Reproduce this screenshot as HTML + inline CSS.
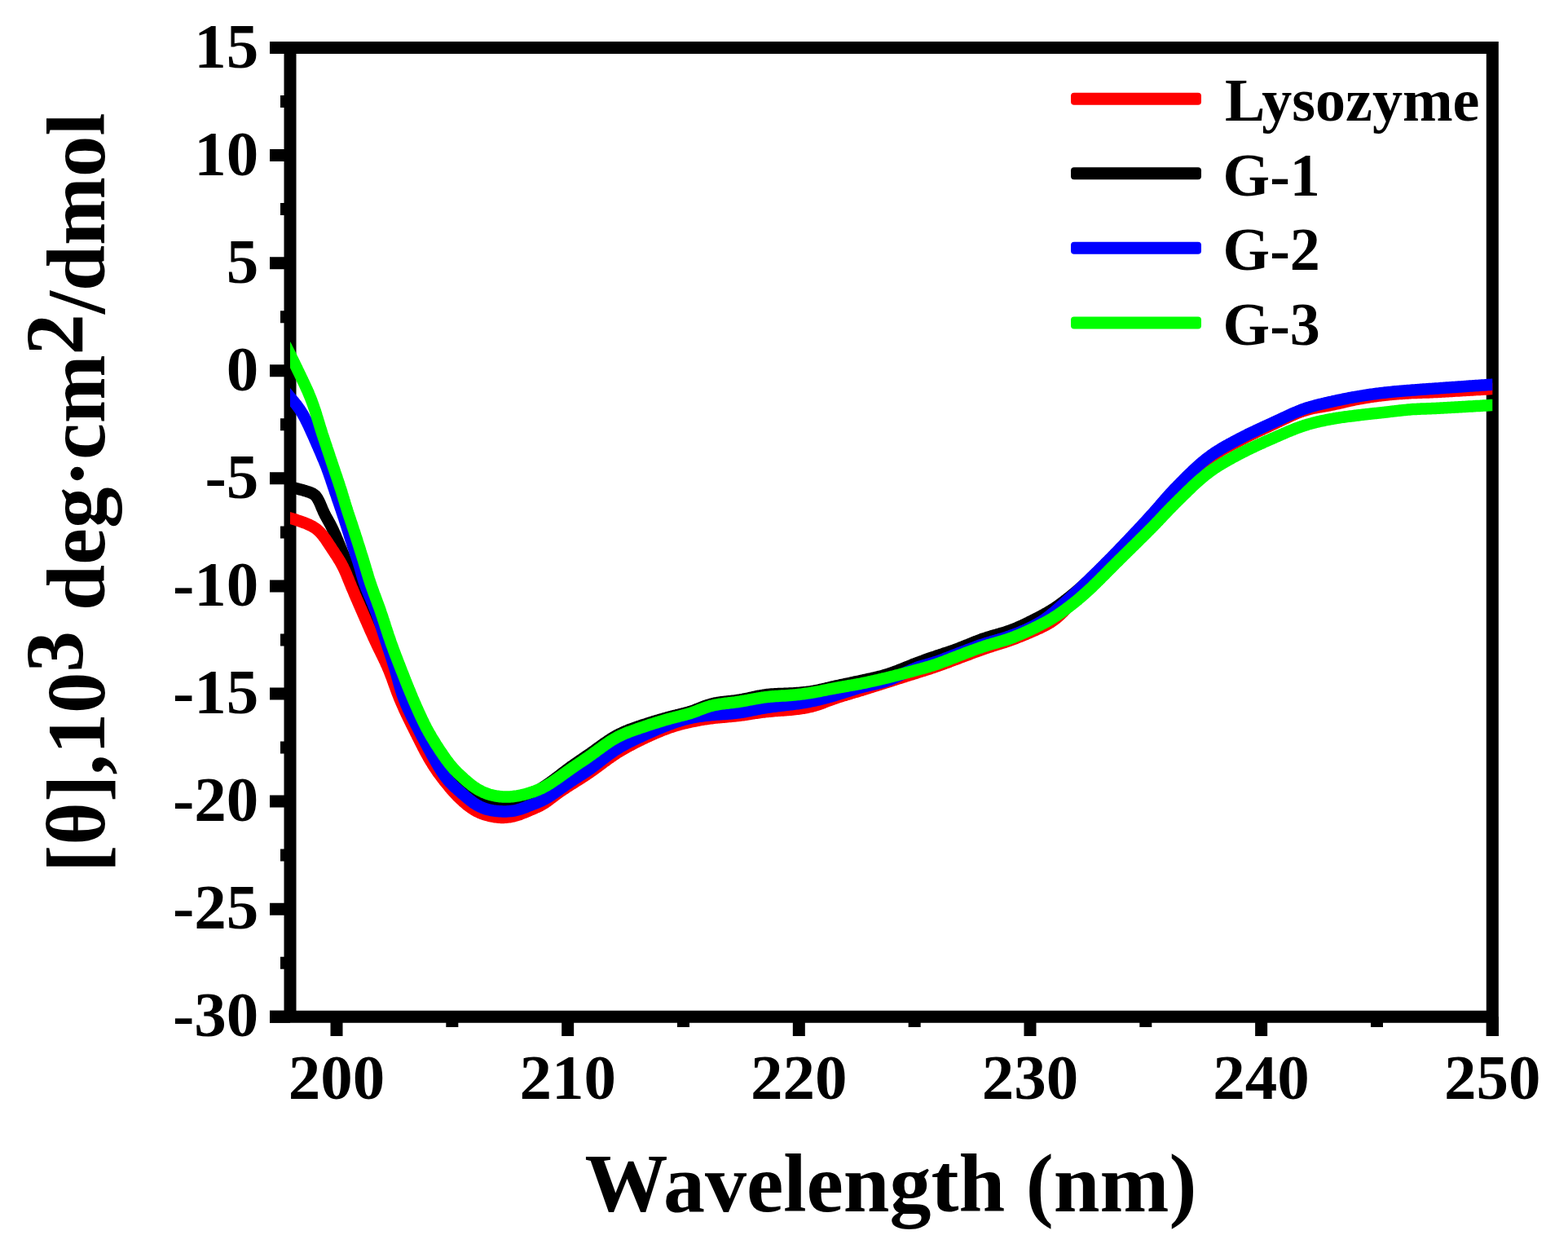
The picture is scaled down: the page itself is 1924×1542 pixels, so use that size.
<!DOCTYPE html><html><head><meta charset="utf-8"><title>CD spectra</title><style>
html,body{margin:0;padding:0;background:#fff;}svg{display:block;}
text{font-family:"Liberation Serif","Times New Roman",serif;font-weight:bold;fill:#000;}
</style></head><body>
<svg width="1924" height="1542" viewBox="0 0 1924 1542">
<rect width="1924" height="1542" fill="#fff"/>
<path d="M331,58.50H356.0 M331,190.58H356.0 M331,322.67H356.0 M331,454.75H356.0 M331,586.83H356.0 M331,718.92H356.0 M331,851.00H356.0 M331,983.08H356.0 M331,1115.17H356.0 M331,1247.25H356.0 M344,124.54H356.0 M344,256.62H356.0 M344,388.71H356.0 M344,520.79H356.0 M344,652.88H356.0 M344,784.96H356.0 M344,917.04H356.0 M344,1049.12H356.0 M344,1181.21H356.0 M413.00,1247.25V1271 M696.66,1247.25V1271 M980.32,1247.25V1271 M1263.98,1247.25V1271 M1547.64,1247.25V1271 M1831.30,1247.25V1271 M554.83,1247.25V1260 M838.49,1247.25V1260 M1122.15,1247.25V1260 M1405.81,1247.25V1260 M1689.47,1247.25V1260" stroke="#000" stroke-width="15" fill="none"/>
<path d="M331,58.50H1838.80 M331,1247.25H1838.80 M356.00,51.00V1254.75 M1831.30,51.00V1271" stroke="#000" stroke-width="15" fill="none"/>
<defs><clipPath id="pc"><rect x="356.0" y="0" width="1475.3" height="1542"/></clipPath></defs>
<g clip-path="url(#pc)" fill="none" stroke-width="14.5" stroke-linejoin="round">
<path d="M340.0,595.0L341.5,595.2 343.0,595.4 344.5,595.6 345.9,595.8 347.4,596.1 348.9,596.3 350.4,596.5 351.9,596.8 353.3,597.0 354.8,597.3 356.3,597.6 357.8,597.9 359.2,598.2 360.7,598.5 362.1,598.9 363.6,599.2 365.1,599.6 366.5,600.0 368.0,600.4 369.4,600.7 370.9,601.1 372.3,601.5 373.8,601.9 375.2,602.4 376.6,602.8 378.1,603.3 379.5,603.7 380.9,604.3 382.3,604.8 383.6,605.5 384.9,606.3 386.1,607.2 387.2,608.2 388.1,609.4 389.0,610.6 389.8,611.9 390.5,613.2 391.2,614.5 391.9,615.9 392.5,617.2 393.1,618.6 393.7,620.0 394.2,621.4 394.8,622.8 395.4,624.1 396.0,625.5 396.6,626.9 397.2,628.3 397.9,629.6 398.5,631.0 399.2,632.3 399.9,633.6 400.6,634.9 401.4,636.2 402.1,637.5 402.8,638.8 403.6,640.2 404.3,641.5 405.0,642.8 405.7,644.1 406.4,645.5 407.0,646.8 407.7,648.2 408.4,649.5 409.0,650.9 409.6,652.2 410.2,653.6 410.8,655.0 411.5,656.3 412.1,657.7 412.6,659.1 413.2,660.5 413.8,661.9 414.4,663.2 414.9,664.6 415.5,666.0 416.1,667.4 416.7,668.8 417.2,670.2 417.8,671.6 418.4,673.0 419.0,674.3 419.5,675.7 420.1,677.1 420.7,678.5 421.3,679.9 421.9,681.2 422.4,682.6 423.0,684.0 423.6,685.4 424.2,686.8 424.8,688.2 425.3,689.6 425.9,690.9 426.5,692.3 427.0,693.7 427.6,695.1 428.1,696.5 428.7,697.9 429.2,699.3 429.8,700.7 430.3,702.1 430.8,703.5 431.4,704.9 431.9,706.3 432.5,707.7 433.0,709.1 433.6,710.5 434.1,711.9 434.7,713.3 435.3,714.7 435.9,716.0 436.5,717.4 437.1,718.8 437.7,720.2 438.3,721.5 438.9,722.9 439.5,724.3 440.2,725.6 440.8,727.0 441.4,728.3 442.1,729.7 442.7,731.1 443.3,732.4 444.0,733.8 444.6,735.1 445.3,736.5 445.9,737.8 446.5,739.2 447.2,740.6 447.8,741.9 448.4,743.3 449.0,744.7 449.6,746.0 450.3,747.4 450.9,748.8 451.5,750.1 452.1,751.5 452.7,752.9 453.2,754.3 453.8,755.6 454.4,757.0 455.0,758.4 455.6,759.8 456.2,761.2 456.7,762.6 457.3,764.0 457.9,765.3 458.4,766.7 459.0,768.1 459.6,769.5 460.1,770.9 460.7,772.3 461.3,773.7 461.8,775.1 462.4,776.5 463.0,777.8 463.5,779.2 464.1,780.6 464.7,782.0 465.2,783.4 465.8,784.8 466.4,786.2 466.9,787.6 467.5,789.0 468.1,790.3 468.6,791.7 469.2,793.1 469.8,794.5 470.3,795.9 470.9,797.3 471.5,798.7 472.1,800.1 472.6,801.4 473.2,802.8 473.8,804.2 474.3,805.6 474.9,807.0 475.4,808.4 476.0,809.8 476.5,811.2 477.1,812.6 477.6,814.0 478.2,815.4 478.7,816.8 479.2,818.2 479.7,819.6 480.3,821.0 480.8,822.4 481.3,823.8 481.8,825.2 482.3,826.7 482.8,828.1 483.2,829.5 483.7,830.9 484.2,832.3 484.7,833.8 485.2,835.2 485.6,836.6 486.1,838.0 486.6,839.5 487.1,840.9 487.5,842.3 488.0,843.7 488.5,845.1 489.0,846.5 489.5,848.0 490.0,849.4 490.5,850.8 491.0,852.2 491.6,853.6 492.1,855.0 492.6,856.4 493.2,857.8 493.8,859.2 494.3,860.6 494.9,862.0 495.5,863.3 496.1,864.7 496.7,866.1 497.3,867.5 497.9,868.8 498.5,870.2 499.1,871.6 499.8,872.9 500.4,874.3 501.0,875.6 501.7,877.0 502.3,878.3 503.0,879.7 503.6,881.0 504.3,882.4 505.0,883.7 505.6,885.1 506.3,886.4 507.0,887.8 507.6,889.1 508.3,890.5 509.0,891.8 509.6,893.1 510.3,894.5 511.0,895.8 511.7,897.2 512.4,898.5 513.0,899.8 513.7,901.2 514.4,902.5 515.1,903.8 515.7,905.2 516.4,906.5 517.1,907.9 517.8,909.2 518.5,910.5 519.2,911.9 519.9,913.2 520.5,914.5 521.2,915.8 521.9,917.2 522.6,918.5 523.4,919.8 524.1,921.1 524.8,922.5 525.5,923.8 526.2,925.1 527.0,926.4 527.7,927.7 528.5,929.0 529.2,930.3 530.0,931.6 530.8,932.8 531.6,934.1 532.5,935.3 533.3,936.6 534.2,937.8 535.0,939.0 535.9,940.2 536.9,941.4 537.8,942.6 538.8,943.7 539.8,944.9 540.8,946.0 541.8,947.1 542.8,948.1 543.9,949.2 545.0,950.2 546.1,951.2 547.2,952.2 548.4,953.2 549.6,954.1 550.8,955.0 552.0,955.9 553.2,956.8 554.4,957.6 555.7,958.5 556.9,959.3 558.2,960.1 559.4,960.9 560.7,961.7 562.0,962.5 563.3,963.3 564.5,964.1 565.8,964.9 567.1,965.7 568.3,966.5 569.5,967.4 570.8,968.2 572.0,969.1 573.3,969.9 574.5,970.8 575.7,971.6 577.0,972.5 578.2,973.3 579.5,974.1 580.8,974.9 582.1,975.6 583.4,976.4 584.7,977.1 586.0,977.7 587.4,978.4 588.8,979.0 590.2,979.6 591.6,980.1 593.0,980.6 594.4,981.1 595.8,981.6 597.2,982.0 598.7,982.4 600.1,982.8 601.6,983.1 603.1,983.4 604.5,983.7 606.0,984.0 607.5,984.2 609.0,984.4 610.5,984.6 612.0,984.7 613.5,984.8 615.0,984.8 616.5,984.8 618.0,984.7 619.5,984.6 621.0,984.4 622.4,984.2 623.9,984.0 625.4,983.7 626.9,983.4 628.3,983.0 629.8,982.7 631.2,982.3 632.7,981.8 634.1,981.4 635.5,980.9 636.9,980.4 638.3,979.9 639.7,979.3 641.1,978.7 642.5,978.2 643.9,977.6 645.2,977.0 646.6,976.4 648.0,975.7 649.3,975.1 650.7,974.4 652.0,973.8 653.4,973.1 654.7,972.4 656.0,971.7 657.3,971.0 658.7,970.3 660.0,969.6 661.3,968.8 662.6,968.1 663.9,967.3 665.1,966.5 666.4,965.7 667.7,964.9 668.9,964.1 670.2,963.2 671.4,962.4 672.6,961.5 673.9,960.7 675.1,959.8 676.3,958.9 677.5,958.0 678.7,957.1 679.9,956.2 681.1,955.3 682.3,954.4 683.5,953.5 684.7,952.6 685.9,951.7 687.1,950.8 688.3,949.9 689.4,948.9 690.6,948.0 691.8,947.1 693.0,946.2 694.2,945.3 695.4,944.4 696.6,943.5 697.8,942.6 699.0,941.7 700.2,940.8 701.4,939.9 702.7,939.1 703.9,938.2 705.1,937.3 706.3,936.5 707.6,935.6 708.8,934.8 710.1,933.9 711.3,933.1 712.5,932.3 713.8,931.4 715.0,930.6 716.3,929.7 717.5,928.9 718.7,928.0 720.0,927.2 721.2,926.3 722.4,925.5 723.7,924.6 724.9,923.8 726.1,922.9 727.4,922.0 728.6,921.2 729.8,920.3 731.0,919.4 732.2,918.5 733.4,917.6 734.6,916.8 735.9,915.9 737.1,915.0 738.3,914.1 739.5,913.2 740.7,912.4 742.0,911.5 743.2,910.7 744.4,909.8 745.7,909.0 746.9,908.1 748.2,907.3 749.4,906.5 750.7,905.7 752.0,904.9 753.3,904.2 754.6,903.4 755.9,902.7 757.2,902.0 758.5,901.3 759.9,900.6 761.2,899.9 762.6,899.3 763.9,898.7 765.3,898.0 766.7,897.4 768.1,896.9 769.4,896.3 770.8,895.7 772.2,895.2 773.6,894.7 775.0,894.1 776.5,893.6 777.9,893.1 779.3,892.6 780.7,892.1 782.1,891.6 783.5,891.1 785.0,890.7 786.4,890.2 787.8,889.7 789.2,889.2 790.6,888.8 792.1,888.3 793.5,887.8 794.9,887.3 796.3,886.9 797.8,886.4 799.2,886.0 800.6,885.5 802.1,885.1 803.5,884.6 804.9,884.2 806.4,883.8 807.8,883.4 809.3,882.9 810.7,882.5 812.1,882.1 813.6,881.7 815.0,881.3 816.5,880.9 817.9,880.5 819.4,880.1 820.8,879.7 822.3,879.3 823.7,878.9 825.2,878.6 826.6,878.2 828.1,877.8 829.5,877.5 831.0,877.1 832.5,876.8 833.9,876.4 835.4,876.1 836.8,875.7 838.3,875.4 839.7,875.0 841.2,874.6 842.6,874.2 844.1,873.8 845.5,873.4 846.9,872.9 848.4,872.5 849.8,872.0 851.2,871.5 852.6,871.0 854.0,870.4 855.4,869.9 856.8,869.3 858.2,868.8 859.6,868.2 861.0,867.6 862.4,867.1 863.8,866.6 865.2,866.0 866.6,865.5 868.0,865.0 869.4,864.6 870.9,864.2 872.3,863.8 873.8,863.4 875.2,863.0 876.7,862.7 878.2,862.4 879.6,862.2 881.1,861.9 882.6,861.7 884.1,861.5 885.6,861.3 887.1,861.1 888.6,861.0 890.1,860.8 891.5,860.6 893.0,860.5 894.5,860.3 896.0,860.2 897.5,860.0 899.0,859.8 900.5,859.6 902.0,859.4 903.5,859.2 904.9,859.0 906.4,858.8 907.9,858.5 909.4,858.3 910.9,858.0 912.3,857.7 913.8,857.4 915.3,857.1 916.7,856.8 918.2,856.5 919.7,856.2 921.1,855.8 922.6,855.5 924.1,855.2 925.5,854.9 927.0,854.5 928.5,854.2 929.9,853.9 931.4,853.6 932.9,853.4 934.4,853.1 935.8,852.9 937.3,852.6 938.8,852.4 940.3,852.2 941.8,852.0 943.3,851.9 944.8,851.7 946.3,851.6 947.8,851.5 949.3,851.4 950.7,851.3 952.2,851.2 953.7,851.2 955.2,851.1 956.7,851.0 958.2,851.0 959.7,850.9 961.2,850.9 962.7,850.8 964.2,850.8 965.7,850.7 967.2,850.7 968.7,850.6 970.2,850.5 971.7,850.5 973.2,850.4 974.7,850.3 976.2,850.2 977.7,850.1 979.2,850.0 980.7,849.9 982.2,849.7 983.7,849.6 985.2,849.5 986.7,849.3 988.2,849.2 989.7,849.0 991.2,848.8 992.6,848.6 994.1,848.4 995.6,848.2 997.1,847.9 998.6,847.7 1000.0,847.4 1001.5,847.1 1003.0,846.8 1004.5,846.5 1005.9,846.2 1007.4,845.9 1008.8,845.5 1010.3,845.2 1011.8,844.8 1013.2,844.5 1014.7,844.1 1016.1,843.8 1017.6,843.4 1019.1,843.1 1020.5,842.7 1022.0,842.4 1023.4,842.1 1024.9,841.7 1026.4,841.4 1027.8,841.1 1029.3,840.8 1030.8,840.4 1032.2,840.1 1033.7,839.8 1035.2,839.5 1036.6,839.2 1038.1,838.9 1039.6,838.6 1041.0,838.3 1042.5,838.0 1044.0,837.7 1045.4,837.4 1046.9,837.0 1048.4,836.7 1049.8,836.4 1051.3,836.1 1052.8,835.8 1054.2,835.5 1055.7,835.2 1057.2,834.8 1058.6,834.5 1060.1,834.2 1061.6,833.9 1063.0,833.6 1064.5,833.2 1066.0,832.9 1067.4,832.6 1068.9,832.3 1070.4,831.9 1071.8,831.6 1073.3,831.3 1074.7,830.9 1076.2,830.6 1077.7,830.2 1079.1,829.8 1080.6,829.5 1082.0,829.1 1083.5,828.7 1084.9,828.3 1086.3,827.8 1087.8,827.4 1089.2,827.0 1090.6,826.5 1092.1,826.1 1093.5,825.6 1094.9,825.1 1096.3,824.6 1097.7,824.1 1099.1,823.5 1100.5,823.0 1101.9,822.5 1103.3,821.9 1104.7,821.4 1106.1,820.8 1107.5,820.3 1108.9,819.7 1110.3,819.1 1111.7,818.6 1113.1,818.0 1114.5,817.5 1115.9,816.9 1117.3,816.3 1118.7,815.8 1120.0,815.2 1121.4,814.7 1122.8,814.1 1124.2,813.6 1125.6,813.1 1127.0,812.5 1128.4,812.0 1129.9,811.5 1131.3,811.0 1132.7,810.5 1134.1,809.9 1135.5,809.4 1136.9,808.9 1138.3,808.4 1139.7,807.9 1141.1,807.4 1142.6,806.9 1144.0,806.4 1145.4,806.0 1146.8,805.5 1148.2,805.0 1149.7,804.5 1151.1,804.0 1152.5,803.6 1153.9,803.1 1155.4,802.6 1156.8,802.2 1158.2,801.7 1159.6,801.2 1161.1,800.8 1162.5,800.3 1163.9,799.8 1165.3,799.3 1166.7,798.8 1168.2,798.3 1169.6,797.9 1171.0,797.3 1172.4,796.8 1173.8,796.3 1175.2,795.8 1176.6,795.3 1178.0,794.7 1179.4,794.2 1180.8,793.6 1182.2,793.1 1183.6,792.5 1185.0,791.9 1186.4,791.4 1187.8,790.8 1189.1,790.3 1190.5,789.7 1191.9,789.1 1193.3,788.6 1194.7,788.0 1196.1,787.4 1197.5,786.9 1198.9,786.3 1200.3,785.8 1201.7,785.3 1203.1,784.8 1204.5,784.2 1205.9,783.7 1207.3,783.3 1208.8,782.8 1210.2,782.3 1211.6,781.8 1213.1,781.4 1214.5,781.0 1215.9,780.5 1217.4,780.1 1218.8,779.7 1220.2,779.3 1221.7,778.9 1223.1,778.5 1224.6,778.1 1226.0,777.7 1227.5,777.2 1228.9,776.8 1230.3,776.4 1231.8,776.0 1233.2,775.5 1234.6,775.0 1236.1,774.6 1237.5,774.1 1238.9,773.6 1240.3,773.1 1241.7,772.6 1243.1,772.0 1244.5,771.5 1245.9,770.9 1247.3,770.3 1248.7,769.7 1250.0,769.1 1251.4,768.5 1252.8,767.9 1254.1,767.3 1255.5,766.7 1256.9,766.0 1258.2,765.4 1259.6,764.7 1260.9,764.1 1262.3,763.4 1263.6,762.7 1264.9,762.1 1266.3,761.4 1267.6,760.7 1269.0,760.0 1270.3,759.4 1271.6,758.7 1273.0,758.0 1274.3,757.3 1275.6,756.6 1276.9,755.9 1278.3,755.2 1279.6,754.5 1280.9,753.8 1282.2,753.0 1283.5,752.3 1284.8,751.6 1286.1,750.8 1287.4,750.0 1288.7,749.3 1290.0,748.5 1291.3,747.7 1292.5,746.9 1293.8,746.1 1295.0,745.2 1296.3,744.4 1297.5,743.5 1298.7,742.7 1299.9,741.8 1301.2,740.9 1302.4,740.0 1303.6,739.1 1304.8,738.2 1306.0,737.3 1307.2,736.4 1308.3,735.5 1309.5,734.6 1310.7,733.6 1311.9,732.7 1313.0,731.8 1314.2,730.8 1315.4,729.9 1316.5,728.9 1317.7,728.0 1318.8,727.0 1320.0,726.0 1321.1,725.1 1322.3,724.1 1323.4,723.1 1324.5,722.1 1325.7,721.1 1326.8,720.1 1327.9,719.1 1329.0,718.1 1330.1,717.1 1331.2,716.1 1332.4,715.1 1333.5,714.1 1334.6,713.1 1335.7,712.1 1336.7,711.0 1337.8,710.0 1338.9,709.0 1340.0,707.9 1341.1,706.9 1342.2,705.9 1343.2,704.8 1344.3,703.8 1345.4,702.7 1346.5,701.7 1347.5,700.6 1348.6,699.6 1349.7,698.5 1350.7,697.4 1351.8,696.4 1352.9,695.3 1353.9,694.3 1355.0,693.2 1356.0,692.1 1357.1,691.1 1358.2,690.0 1359.2,689.0 1360.3,687.9 1361.3,686.8 1362.4,685.8 1363.4,684.7 1364.5,683.6 1365.5,682.6 1366.6,681.5 1367.7,680.4 1368.7,679.4 1369.8,678.3 1370.8,677.2 1371.9,676.1 1372.9,675.1 1374.0,674.0 1375.0,672.9 1376.1,671.9 1377.1,670.8 1378.2,669.7 1379.2,668.7 1380.3,667.6 1381.3,666.5 1382.4,665.4 1383.4,664.4 1384.5,663.3 1385.5,662.2 1386.6,661.2 1387.6,660.1 1388.7,659.0 1389.7,657.9 1390.8,656.9 1391.8,655.8 1392.8,654.7 1393.9,653.6 1394.9,652.5 1396.0,651.5 1397.0,650.4 1398.1,649.3 1399.1,648.2 1400.1,647.1 1401.2,646.1 1402.2,645.0 1403.2,643.9 1404.3,642.8 1405.3,641.7 1406.3,640.6 1407.4,639.5 1408.4,638.5 1409.4,637.4 1410.5,636.3 1411.5,635.2 1412.5,634.1 1413.5,633.0 1414.5,631.9 1415.5,630.7 1416.5,629.6 1417.5,628.5 1418.5,627.4 1419.5,626.3 1420.5,625.2 1421.5,624.0 1422.5,622.9 1423.5,621.8 1424.5,620.6 1425.4,619.5 1426.4,618.3 1427.4,617.2 1428.4,616.1 1429.3,614.9 1430.3,613.8 1431.3,612.7 1432.3,611.5 1433.3,610.4 1434.3,609.3 1435.3,608.2 1436.3,607.1 1437.3,606.0 1438.3,604.9 1439.4,603.8 1440.4,602.7 1441.4,601.6 1442.5,600.5 1443.5,599.4 1444.5,598.3 1445.6,597.2 1446.6,596.2 1447.7,595.1 1448.7,594.0 1449.7,592.9 1450.8,591.9 1451.8,590.8 1452.9,589.7 1453.9,588.6 1455.0,587.6 1456.0,586.5 1457.1,585.4 1458.2,584.4 1459.2,583.3 1460.3,582.3 1461.4,581.2 1462.4,580.2 1463.5,579.1 1464.6,578.1 1465.7,577.0 1466.8,576.0 1467.9,575.0 1469.0,574.0 1470.1,573.0 1471.2,572.0 1472.3,571.0 1473.4,570.0 1474.6,569.0 1475.7,568.0 1476.8,567.0 1478.0,566.1 1479.2,565.1 1480.3,564.2 1481.5,563.3 1482.7,562.4 1483.9,561.5 1485.1,560.6 1486.3,559.7 1487.5,558.8 1488.8,558.0 1490.0,557.1 1491.3,556.3 1492.5,555.5 1493.8,554.7 1495.1,553.9 1496.3,553.1 1497.6,552.3 1498.9,551.6 1500.2,550.8 1501.5,550.1 1502.8,549.3 1504.1,548.6 1505.4,547.9 1506.8,547.1 1508.1,546.4 1509.4,545.7 1510.7,545.0 1512.0,544.3 1513.4,543.6 1514.7,542.9 1516.0,542.2 1517.3,541.5 1518.7,540.8 1520.0,540.1 1521.3,539.4 1522.7,538.7 1524.0,538.0 1525.3,537.3 1526.7,536.6 1528.0,535.9 1529.3,535.3 1530.7,534.6 1532.0,533.9 1533.3,533.2 1534.7,532.6 1536.0,531.9 1537.4,531.2 1538.7,530.6 1540.1,529.9 1541.4,529.3 1542.8,528.6 1544.1,528.0 1545.5,527.3 1546.8,526.7 1548.2,526.1 1549.6,525.4 1550.9,524.8 1552.3,524.1 1553.6,523.5 1555.0,522.9 1556.4,522.3 1557.7,521.6 1559.1,521.0 1560.4,520.4 1561.8,519.7 1563.2,519.1 1564.5,518.5 1565.9,517.8 1567.2,517.2 1568.6,516.6 1570.0,515.9 1571.3,515.3 1572.7,514.7 1574.0,514.1 1575.4,513.4 1576.8,512.8 1578.1,512.2 1579.5,511.6 1580.9,510.9 1582.2,510.3 1583.6,509.7 1585.0,509.1 1586.4,508.5 1587.7,507.9 1589.1,507.4 1590.5,506.8 1591.9,506.2 1593.3,505.7 1594.7,505.1 1596.1,504.6 1597.5,504.1 1598.9,503.6 1600.4,503.1 1601.8,502.7 1603.2,502.2 1604.6,501.8 1606.1,501.3 1607.5,500.9 1609.0,500.5 1610.4,500.1 1611.9,499.8 1613.3,499.4 1614.8,499.0 1616.2,498.7 1617.7,498.4 1619.2,498.0 1620.6,497.7 1622.1,497.4 1623.6,497.1 1625.0,496.8 1626.5,496.4 1628.0,496.1 1629.4,495.8 1630.9,495.5 1632.4,495.2 1633.8,494.9 1635.3,494.5 1636.8,494.2 1638.2,493.9 1639.7,493.6 1641.2,493.2 1642.6,492.9 1644.1,492.6 1645.5,492.3 1647.0,492.0 1648.5,491.7 1649.9,491.3 1651.4,491.0 1652.9,490.7 1654.4,490.4 1655.8,490.1 1657.3,489.8 1658.8,489.5 1660.2,489.2 1661.7,489.0 1663.2,488.7 1664.7,488.4 1666.1,488.1 1667.6,487.9 1669.1,487.6 1670.6,487.3 1672.0,487.1 1673.5,486.8 1675.0,486.6 1676.5,486.3 1678.0,486.1 1679.4,485.9 1680.9,485.6 1682.4,485.4 1683.9,485.2 1685.4,485.0 1686.9,484.8 1688.3,484.6 1689.8,484.3 1691.3,484.1 1692.8,483.9 1694.3,483.7 1695.8,483.6 1697.3,483.4 1698.8,483.2 1700.2,483.0 1701.7,482.8 1703.2,482.7 1704.7,482.5 1706.2,482.4 1707.7,482.2 1709.2,482.1 1710.7,481.9 1712.2,481.8 1713.7,481.6 1715.2,481.5 1716.7,481.4 1718.2,481.2 1719.7,481.1 1721.1,481.0 1722.6,480.9 1724.1,480.7 1725.6,480.6 1727.1,480.5 1728.6,480.4 1730.1,480.2 1731.6,480.1 1733.1,480.0 1734.6,479.9 1736.1,479.7 1737.6,479.6 1739.1,479.5 1740.6,479.4 1742.1,479.2 1743.6,479.1 1745.1,479.0 1746.6,478.9 1748.1,478.8 1749.5,478.6 1751.0,478.5 1752.5,478.4 1754.0,478.3 1755.5,478.2 1757.0,478.1 1758.5,478.0 1760.0,477.9 1761.5,477.8 1763.0,477.7 1764.5,477.5 1766.0,477.4 1767.5,477.3 1769.0,477.2 1770.5,477.1 1772.0,477.0 1773.5,476.9 1775.0,476.8 1776.5,476.7 1778.0,476.6 1779.5,476.5 1781.0,476.4 1782.5,476.3 1784.0,476.2 1785.5,476.1 1787.0,476.0 1788.5,475.9 1789.9,475.8 1791.4,475.7 1792.9,475.6 1794.4,475.5 1795.9,475.4 1797.4,475.3 1798.9,475.2 1800.4,475.1 1801.9,475.0 1803.4,474.9 1804.9,474.8 1806.4,474.7 1807.9,474.6 1809.4,474.5 1810.9,474.4 1812.4,474.3 1813.9,474.1 1815.4,474.0 1816.9,473.9 1818.4,473.8 1819.9,473.7 1821.4,473.6 1822.9,473.5 1824.4,473.5 1825.9,473.4 1827.4,473.3 1828.9,473.2 1830.4,473.1 1831.9,473.0 1833.4,472.9 1834.9,472.8 1836.3,472.7 1837.8,472.6 1839.3,472.6" stroke="#000"/>
<path d="M350.0,634.0L351.5,634.4 352.9,634.8 354.4,635.1 355.8,635.5 357.2,635.9 358.7,636.4 360.1,636.8 361.6,637.2 363.0,637.7 364.4,638.2 365.8,638.6 367.3,639.1 368.7,639.6 370.1,640.1 371.5,640.6 372.9,641.1 374.3,641.6 375.7,642.2 377.1,642.8 378.5,643.3 379.8,644.0 381.2,644.6 382.5,645.3 383.8,646.0 385.1,646.8 386.4,647.6 387.6,648.5 388.8,649.4 389.9,650.4 391.0,651.4 392.1,652.4 393.2,653.5 394.2,654.6 395.2,655.8 396.1,656.9 397.0,658.1 397.9,659.3 398.8,660.5 399.7,661.7 400.5,663.0 401.3,664.2 402.2,665.5 403.0,666.7 403.8,668.0 404.6,669.2 405.5,670.5 406.3,671.8 407.1,673.0 407.9,674.3 408.8,675.5 409.6,676.8 410.4,678.0 411.2,679.3 412.1,680.5 412.9,681.8 413.7,683.0 414.5,684.3 415.3,685.6 416.1,686.9 416.9,688.1 417.6,689.4 418.4,690.7 419.1,692.0 419.8,693.4 420.5,694.7 421.2,696.0 421.8,697.4 422.5,698.7 423.1,700.1 423.7,701.5 424.3,702.8 424.9,704.2 425.5,705.6 426.0,707.0 426.6,708.4 427.2,709.8 427.7,711.2 428.3,712.6 428.9,714.0 429.4,715.3 430.0,716.7 430.6,718.1 431.1,719.5 431.7,720.9 432.3,722.3 432.9,723.6 433.5,725.0 434.1,726.4 434.7,727.8 435.2,729.2 435.8,730.5 436.4,731.9 437.0,733.3 437.6,734.7 438.2,736.0 438.8,737.4 439.4,738.8 440.0,740.2 440.6,741.6 441.2,742.9 441.8,744.3 442.4,745.7 443.0,747.1 443.6,748.4 444.2,749.8 444.8,751.2 445.4,752.6 446.0,753.9 446.6,755.3 447.2,756.7 447.8,758.1 448.4,759.4 449.0,760.8 449.6,762.2 450.2,763.5 450.8,764.9 451.4,766.3 452.0,767.7 452.6,769.0 453.2,770.4 453.8,771.8 454.4,773.2 455.0,774.5 455.7,775.9 456.3,777.3 456.9,778.6 457.5,780.0 458.1,781.4 458.7,782.7 459.4,784.1 460.0,785.5 460.6,786.8 461.3,788.2 461.9,789.5 462.5,790.9 463.2,792.2 463.8,793.6 464.5,795.0 465.1,796.3 465.8,797.6 466.5,799.0 467.1,800.3 467.8,801.7 468.5,803.0 469.1,804.4 469.8,805.7 470.4,807.1 471.1,808.4 471.7,809.8 472.4,811.1 473.0,812.5 473.6,813.9 474.2,815.2 474.9,816.6 475.5,818.0 476.0,819.3 476.6,820.7 477.2,822.1 477.8,823.5 478.3,824.9 478.9,826.3 479.4,827.7 479.9,829.1 480.5,830.5 481.0,831.9 481.5,833.3 482.0,834.7 482.5,836.1 483.0,837.5 483.5,839.0 484.0,840.4 484.6,841.8 485.1,843.2 485.6,844.6 486.1,846.0 486.6,847.4 487.1,848.8 487.7,850.2 488.2,851.6 488.8,853.0 489.3,854.4 489.9,855.8 490.4,857.2 491.0,858.6 491.6,860.0 492.2,861.4 492.8,862.7 493.4,864.1 494.0,865.5 494.6,866.8 495.2,868.2 495.8,869.6 496.4,870.9 497.1,872.3 497.7,873.7 498.3,875.0 499.0,876.4 499.6,877.7 500.3,879.1 500.9,880.4 501.6,881.8 502.2,883.1 502.9,884.5 503.6,885.8 504.2,887.2 504.9,888.5 505.6,889.9 506.2,891.2 506.9,892.6 507.6,893.9 508.2,895.2 508.9,896.6 509.6,897.9 510.2,899.3 510.9,900.6 511.6,901.9 512.2,903.3 512.9,904.6 513.6,906.0 514.3,907.3 514.9,908.6 515.6,910.0 516.3,911.3 517.0,912.7 517.7,914.0 518.3,915.3 519.0,916.7 519.7,918.0 520.4,919.3 521.1,920.7 521.8,922.0 522.5,923.3 523.2,924.6 524.0,925.9 524.7,927.2 525.4,928.6 526.2,929.9 526.9,931.2 527.7,932.5 528.4,933.8 529.2,935.0 530.0,936.3 530.8,937.6 531.6,938.9 532.4,940.1 533.2,941.4 534.0,942.6 534.9,943.9 535.7,945.1 536.6,946.3 537.4,947.6 538.3,948.8 539.2,950.0 540.1,951.2 541.0,952.4 541.9,953.6 542.8,954.8 543.7,956.0 544.6,957.2 545.5,958.4 546.5,959.5 547.4,960.7 548.4,961.9 549.3,963.0 550.3,964.2 551.2,965.3 552.2,966.5 553.2,967.6 554.1,968.8 555.1,969.9 556.1,971.0 557.1,972.1 558.1,973.2 559.2,974.3 560.2,975.4 561.2,976.5 562.3,977.6 563.4,978.6 564.4,979.7 565.5,980.7 566.6,981.7 567.7,982.7 568.8,983.8 570.0,984.7 571.1,985.7 572.2,986.7 573.4,987.6 574.6,988.5 575.8,989.4 577.0,990.3 578.2,991.2 579.5,992.0 580.7,992.8 582.0,993.6 583.3,994.3 584.7,995.1 586.0,995.7 587.3,996.4 588.7,997.0 590.1,997.6 591.5,998.1 592.9,998.6 594.3,999.1 595.8,999.6 597.2,1000.0 598.6,1000.4 600.1,1000.8 601.6,1001.1 603.0,1001.4 604.5,1001.7 606.0,1002.0 607.5,1002.2 608.9,1002.4 610.4,1002.6 611.9,1002.7 613.4,1002.8 614.9,1002.9 616.4,1002.9 617.9,1002.9 619.4,1002.8 620.9,1002.7 622.4,1002.6 623.9,1002.4 625.4,1002.2 626.9,1002.0 628.3,1001.7 629.8,1001.4 631.3,1001.0 632.7,1000.6 634.1,1000.2 635.6,999.7 637.0,999.3 638.4,998.8 639.8,998.2 641.2,997.7 642.6,997.1 644.0,996.6 645.4,996.0 646.8,995.4 648.1,994.9 649.5,994.3 650.9,993.7 652.3,993.1 653.7,992.5 655.1,991.9 656.4,991.3 657.8,990.7 659.2,990.1 660.5,989.5 661.9,988.8 663.2,988.1 664.5,987.4 665.8,986.6 667.1,985.9 668.4,985.1 669.6,984.2 670.9,983.4 672.1,982.5 673.3,981.6 674.5,980.7 675.7,979.8 676.9,978.9 678.1,978.0 679.3,977.1 680.5,976.2 681.7,975.3 682.9,974.4 684.1,973.5 685.3,972.6 686.5,971.8 687.7,970.9 689.0,970.1 690.2,969.2 691.5,968.4 692.7,967.6 694.0,966.7 695.2,965.9 696.5,965.1 697.8,964.3 699.0,963.5 700.3,962.7 701.6,961.9 702.8,961.1 704.1,960.3 705.4,959.5 706.6,958.7 707.9,957.9 709.2,957.1 710.4,956.3 711.7,955.5 713.0,954.7 714.2,953.9 715.5,953.1 716.8,952.2 718.0,951.4 719.3,950.6 720.5,949.8 721.7,948.9 723.0,948.1 724.2,947.2 725.4,946.3 726.7,945.5 727.9,944.6 729.1,943.7 730.3,942.9 731.5,942.0 732.7,941.1 733.9,940.2 735.2,939.3 736.4,938.4 737.6,937.5 738.8,936.6 740.0,935.7 741.2,934.8 742.4,933.9 743.6,933.1 744.8,932.2 746.0,931.3 747.3,930.4 748.5,929.6 749.7,928.7 751.0,927.9 752.2,927.0 753.4,926.2 754.7,925.4 755.9,924.5 757.2,923.7 758.5,922.9 759.8,922.1 761.0,921.4 762.3,920.6 763.6,919.8 764.9,919.1 766.2,918.3 767.5,917.6 768.8,916.9 770.1,916.1 771.5,915.4 772.8,914.7 774.1,914.0 775.4,913.3 776.7,912.6 778.1,911.9 779.4,911.2 780.7,910.5 782.1,909.9 783.4,909.2 784.8,908.5 786.1,907.9 787.5,907.2 788.8,906.5 790.2,905.9 791.5,905.3 792.9,904.6 794.2,904.0 795.6,903.4 797.0,902.7 798.3,902.1 799.7,901.5 801.1,900.9 802.5,900.3 803.8,899.7 805.2,899.1 806.6,898.5 808.0,897.9 809.4,897.4 810.7,896.8 812.1,896.2 813.5,895.7 814.9,895.1 816.3,894.6 817.7,894.1 819.1,893.6 820.6,893.0 822.0,892.5 823.4,892.1 824.8,891.6 826.2,891.1 827.7,890.7 829.1,890.2 830.5,889.8 832.0,889.4 833.4,889.0 834.9,888.6 836.3,888.2 837.8,887.9 839.2,887.5 840.7,887.2 842.2,886.8 843.6,886.5 845.1,886.2 846.6,885.9 848.0,885.5 849.5,885.2 851.0,884.9 852.4,884.6 853.9,884.3 855.4,884.0 856.8,883.8 858.3,883.5 859.8,883.2 861.3,882.9 862.7,882.7 864.2,882.4 865.7,882.2 867.2,882.0 868.7,881.8 870.2,881.6 871.6,881.4 873.1,881.2 874.6,881.0 876.1,880.8 877.6,880.6 879.1,880.5 880.6,880.3 882.1,880.2 883.6,880.0 885.1,879.9 886.6,879.8 888.1,879.7 889.6,879.5 891.0,879.4 892.5,879.3 894.0,879.1 895.5,879.0 897.0,878.9 898.5,878.7 900.0,878.6 901.5,878.4 903.0,878.3 904.5,878.1 906.0,877.9 907.5,877.8 909.0,877.6 910.4,877.4 911.9,877.2 913.4,877.0 914.9,876.7 916.4,876.5 917.9,876.3 919.3,876.1 920.8,875.8 922.3,875.6 923.8,875.4 925.3,875.1 926.8,874.9 928.2,874.7 929.7,874.5 931.2,874.3 932.7,874.0 934.2,873.8 935.7,873.6 937.2,873.5 938.6,873.3 940.1,873.1 941.6,873.0 943.1,872.8 944.6,872.7 946.1,872.5 947.6,872.4 949.1,872.3 950.6,872.1 952.1,872.0 953.6,871.9 955.1,871.8 956.6,871.7 958.1,871.6 959.6,871.5 961.1,871.4 962.6,871.3 964.1,871.2 965.5,871.1 967.0,870.9 968.5,870.8 970.0,870.7 971.5,870.5 973.0,870.4 974.5,870.2 976.0,870.1 977.5,869.9 979.0,869.7 980.5,869.5 982.0,869.3 983.4,869.1 984.9,868.9 986.4,868.7 987.9,868.4 989.4,868.1 990.8,867.8 992.3,867.5 993.8,867.2 995.2,866.9 996.7,866.5 998.1,866.1 999.6,865.7 1001.0,865.2 1002.4,864.8 1003.9,864.3 1005.3,863.8 1006.7,863.3 1008.1,862.8 1009.5,862.3 1010.9,861.8 1012.3,861.2 1013.7,860.7 1015.1,860.2 1016.5,859.6 1017.9,859.1 1019.3,858.6 1020.7,858.1 1022.1,857.6 1023.6,857.1 1025.0,856.6 1026.4,856.1 1027.8,855.7 1029.3,855.2 1030.7,854.7 1032.1,854.3 1033.6,853.8 1035.0,853.4 1036.4,853.0 1037.9,852.5 1039.3,852.1 1040.7,851.7 1042.2,851.3 1043.6,850.8 1045.0,850.4 1046.5,850.0 1047.9,849.5 1049.4,849.1 1050.8,848.7 1052.2,848.3 1053.7,847.8 1055.1,847.4 1056.5,847.0 1058.0,846.5 1059.4,846.1 1060.8,845.6 1062.3,845.2 1063.7,844.7 1065.1,844.3 1066.6,843.8 1068.0,843.4 1069.4,842.9 1070.9,842.5 1072.3,842.0 1073.7,841.6 1075.2,841.1 1076.6,840.7 1078.0,840.2 1079.4,839.8 1080.9,839.3 1082.3,838.9 1083.7,838.4 1085.2,838.0 1086.6,837.5 1088.0,837.1 1089.5,836.6 1090.9,836.2 1092.3,835.7 1093.7,835.3 1095.2,834.8 1096.6,834.4 1098.0,833.9 1099.5,833.4 1100.9,833.0 1102.3,832.5 1103.8,832.1 1105.2,831.6 1106.6,831.2 1108.0,830.7 1109.5,830.3 1110.9,829.8 1112.3,829.4 1113.8,828.9 1115.2,828.5 1116.6,828.0 1118.1,827.6 1119.5,827.1 1120.9,826.7 1122.4,826.2 1123.8,825.8 1125.2,825.3 1126.6,824.9 1128.1,824.4 1129.5,824.0 1130.9,823.5 1132.4,823.1 1133.8,822.6 1135.2,822.1 1136.7,821.7 1138.1,821.2 1139.5,820.8 1140.9,820.3 1142.4,819.8 1143.8,819.4 1145.2,818.9 1146.6,818.4 1148.0,817.9 1149.5,817.4 1150.9,816.9 1152.3,816.4 1153.7,815.9 1155.1,815.4 1156.5,814.9 1157.9,814.4 1159.3,813.9 1160.7,813.3 1162.2,812.8 1163.6,812.3 1165.0,811.8 1166.4,811.2 1167.8,810.7 1169.2,810.2 1170.6,809.7 1172.0,809.1 1173.4,808.6 1174.8,808.1 1176.2,807.6 1177.6,807.0 1179.0,806.5 1180.4,806.0 1181.8,805.4 1183.2,804.9 1184.6,804.4 1186.0,803.8 1187.4,803.3 1188.8,802.8 1190.2,802.3 1191.6,801.7 1193.0,801.2 1194.4,800.7 1195.9,800.2 1197.3,799.6 1198.7,799.1 1200.1,798.6 1201.5,798.1 1202.9,797.6 1204.3,797.1 1205.7,796.6 1207.1,796.1 1208.6,795.6 1210.0,795.1 1211.4,794.7 1212.8,794.2 1214.3,793.7 1215.7,793.3 1217.1,792.8 1218.5,792.4 1220.0,791.9 1221.4,791.5 1222.8,791.0 1224.3,790.5 1225.7,790.1 1227.1,789.6 1228.6,789.2 1230.0,788.7 1231.4,788.3 1232.8,787.8 1234.3,787.3 1235.7,786.8 1237.1,786.3 1238.5,785.8 1239.9,785.3 1241.3,784.8 1242.7,784.3 1244.2,783.8 1245.6,783.3 1247.0,782.8 1248.4,782.2 1249.8,781.7 1251.2,781.1 1252.6,780.6 1254.0,780.0 1255.3,779.5 1256.7,778.9 1258.1,778.3 1259.5,777.8 1260.9,777.2 1262.3,776.6 1263.7,776.0 1265.0,775.4 1266.4,774.8 1267.8,774.2 1269.1,773.6 1270.5,773.0 1271.9,772.4 1273.2,771.7 1274.6,771.1 1276.0,770.5 1277.3,769.8 1278.7,769.2 1280.0,768.5 1281.4,767.8 1282.7,767.2 1284.0,766.5 1285.3,765.7 1286.6,765.0 1287.9,764.2 1289.2,763.5 1290.5,762.6 1291.7,761.8 1292.9,760.9 1294.1,760.0 1295.3,759.1 1296.5,758.2 1297.6,757.2 1298.8,756.2 1299.9,755.2 1301.0,754.2 1302.1,753.2 1303.1,752.1 1304.2,751.0 1305.2,750.0 1306.2,748.9 1307.3,747.8 1308.3,746.6 1309.3,745.5 1310.3,744.4 1311.3,743.3 1312.2,742.2 1313.2,741.0 1314.2,739.9 1315.2,738.7 1316.2,737.6 1317.1,736.5 1318.1,735.3 1319.1,734.2 1320.1,733.0 1321.0,731.9 1322.0,730.8 1323.0,729.6 1324.0,728.5 1325.0,727.4 1326.0,726.3 1327.0,725.1 1328.0,724.0 1329.0,722.9 1330.0,721.8 1331.0,720.7 1332.0,719.6 1333.0,718.5 1334.0,717.4 1335.1,716.3 1336.1,715.2 1337.1,714.1 1338.1,713.0 1339.2,711.9 1340.2,710.8 1341.3,709.8 1342.3,708.7 1343.3,707.6 1344.4,706.5 1345.4,705.4 1346.5,704.4 1347.5,703.3 1348.6,702.2 1349.6,701.1 1350.6,700.0 1351.7,699.0 1352.7,697.9 1353.8,696.8 1354.8,695.8 1355.9,694.7 1356.9,693.6 1358.0,692.5 1359.0,691.5 1360.1,690.4 1361.1,689.3 1362.2,688.2 1363.2,687.2 1364.2,686.1 1365.3,685.0 1366.3,683.9 1367.4,682.8 1368.4,681.8 1369.5,680.7 1370.5,679.6 1371.5,678.5 1372.6,677.4 1373.6,676.3 1374.6,675.3 1375.7,674.2 1376.7,673.1 1377.8,672.0 1378.8,670.9 1379.8,669.8 1380.9,668.8 1381.9,667.7 1382.9,666.6 1384.0,665.5 1385.0,664.4 1386.0,663.3 1387.1,662.2 1388.1,661.1 1389.1,660.1 1390.2,659.0 1391.2,657.9 1392.2,656.8 1393.2,655.7 1394.3,654.6 1395.3,653.5 1396.3,652.4 1397.4,651.3 1398.4,650.2 1399.4,649.2 1400.5,648.1 1401.5,647.0 1402.5,645.9 1403.5,644.8 1404.6,643.7 1405.6,642.6 1406.6,641.5 1407.6,640.4 1408.6,639.3 1409.7,638.2 1410.7,637.1 1411.7,636.0 1412.7,634.9 1413.7,633.8 1414.7,632.7 1415.7,631.5 1416.7,630.4 1417.7,629.3 1418.7,628.2 1419.7,627.1 1420.7,625.9 1421.7,624.8 1422.7,623.7 1423.6,622.5 1424.6,621.4 1425.6,620.2 1426.6,619.1 1427.5,618.0 1428.5,616.8 1429.5,615.7 1430.5,614.6 1431.5,613.4 1432.5,612.3 1433.5,611.2 1434.5,610.1 1435.5,609.0 1436.5,607.9 1437.5,606.8 1438.5,605.7 1439.6,604.6 1440.6,603.5 1441.6,602.4 1442.6,601.3 1443.7,600.2 1444.7,599.1 1445.8,598.0 1446.8,597.0 1447.8,595.9 1448.9,594.8 1449.9,593.7 1451.0,592.7 1452.0,591.6 1453.1,590.5 1454.1,589.4 1455.2,588.4 1456.2,587.3 1457.3,586.2 1458.4,585.2 1459.4,584.1 1460.5,583.1 1461.6,582.0 1462.6,581.0 1463.7,579.9 1464.8,578.9 1465.9,577.9 1467.0,576.8 1468.1,575.8 1469.2,574.8 1470.3,573.8 1471.4,572.8 1472.5,571.8 1473.6,570.8 1474.8,569.8 1475.9,568.8 1477.1,567.9 1478.2,566.9 1479.4,566.0 1480.5,565.0 1481.7,564.1 1482.9,563.2 1484.1,562.3 1485.3,561.4 1486.6,560.5 1487.8,559.7 1489.0,558.8 1490.3,558.0 1491.5,557.1 1492.8,556.3 1494.0,555.5 1495.3,554.7 1496.6,554.0 1497.9,553.2 1499.2,552.4 1500.5,551.7 1501.8,550.9 1503.1,550.2 1504.4,549.4 1505.7,548.7 1507.0,548.0 1508.3,547.3 1509.6,546.6 1511.0,545.9 1512.3,545.2 1513.6,544.5 1514.9,543.7 1516.3,543.1 1517.6,542.4 1518.9,541.7 1520.3,541.0 1521.6,540.3 1522.9,539.6 1524.2,538.9 1525.6,538.2 1526.9,537.5 1528.2,536.8 1529.6,536.1 1530.9,535.5 1532.3,534.8 1533.6,534.1 1534.9,533.5 1536.3,532.8 1537.6,532.1 1539.0,531.5 1540.3,530.8 1541.7,530.2 1543.0,529.5 1544.4,528.9 1545.8,528.2 1547.1,527.6 1548.5,527.0 1549.8,526.3 1551.2,525.7 1552.5,525.1 1553.9,524.4 1555.3,523.8 1556.6,523.2 1558.0,522.5 1559.3,521.9 1560.7,521.2 1562.1,520.6 1563.4,520.0 1564.8,519.3 1566.1,518.7 1567.5,518.0 1568.8,517.4 1570.2,516.7 1571.5,516.1 1572.9,515.4 1574.2,514.8 1575.6,514.2 1576.9,513.5 1578.3,512.9 1579.7,512.2 1581.0,511.6 1582.4,510.9 1583.7,510.3 1585.1,509.7 1586.5,509.1 1587.8,508.5 1589.2,507.9 1590.6,507.3 1592.0,506.7 1593.4,506.2 1594.8,505.7 1596.2,505.1 1597.6,504.6 1599.0,504.2 1600.5,503.7 1601.9,503.3 1603.3,502.8 1604.8,502.4 1606.2,502.1 1607.7,501.7 1609.2,501.4 1610.6,501.0 1612.1,500.7 1613.6,500.4 1615.0,500.2 1616.5,499.9 1618.0,499.6 1619.5,499.4 1620.9,499.1 1622.4,498.8 1623.9,498.6 1625.4,498.3 1626.8,498.1 1628.3,497.8 1629.8,497.5 1631.3,497.3 1632.7,497.0 1634.2,496.7 1635.7,496.4 1637.1,496.1 1638.6,495.7 1640.1,495.4 1641.5,495.1 1643.0,494.8 1644.5,494.4 1645.9,494.1 1647.4,493.8 1648.9,493.4 1650.3,493.1 1651.8,492.7 1653.2,492.4 1654.7,492.1 1656.2,491.7 1657.6,491.4 1659.1,491.1 1660.6,490.8 1662.0,490.5 1663.5,490.2 1665.0,489.9 1666.4,489.6 1667.9,489.3 1669.4,489.1 1670.9,488.8 1672.4,488.5 1673.8,488.3 1675.3,488.0 1676.8,487.8 1678.3,487.6 1679.8,487.3 1681.2,487.1 1682.7,486.9 1684.2,486.7 1685.7,486.4 1687.2,486.2 1688.7,486.0 1690.1,485.8 1691.6,485.6 1693.1,485.5 1694.6,485.3 1696.1,485.1 1697.6,484.9 1699.1,484.8 1700.6,484.6 1702.1,484.4 1703.6,484.3 1705.0,484.1 1706.5,484.0 1708.0,483.8 1709.5,483.7 1711.0,483.6 1712.5,483.4 1714.0,483.3 1715.5,483.2 1717.0,483.1 1718.5,483.0 1720.0,482.9 1721.5,482.8 1723.0,482.7 1724.5,482.6 1726.0,482.5 1727.5,482.4 1729.0,482.3 1730.5,482.2 1732.0,482.1 1733.5,482.1 1735.0,482.0 1736.5,481.9 1738.0,481.9 1739.5,481.8 1741.0,481.8 1742.5,481.7 1744.0,481.7 1745.5,481.6 1747.0,481.6 1748.5,481.5 1750.0,481.5 1751.5,481.4 1753.0,481.4 1754.5,481.3 1756.0,481.3 1757.5,481.2 1759.0,481.1 1760.4,481.0 1761.9,481.0 1763.4,480.9 1764.9,480.8 1766.4,480.7 1767.9,480.7 1769.4,480.6 1770.9,480.5 1772.4,480.4 1773.9,480.3 1775.4,480.2 1776.9,480.2 1778.4,480.1 1779.9,480.0 1781.4,479.9 1782.9,479.8 1784.4,479.7 1785.9,479.6 1787.4,479.5 1788.9,479.5 1790.4,479.4 1791.9,479.3 1793.4,479.2 1794.9,479.1 1796.4,479.0 1797.9,478.9 1799.4,478.8 1800.9,478.8 1802.4,478.7 1803.9,478.6 1805.4,478.5 1806.9,478.4 1808.4,478.3 1809.9,478.2 1811.4,478.1 1812.9,478.1 1814.4,478.0 1815.9,477.9 1817.4,477.8 1818.9,477.7 1820.4,477.6 1821.8,477.5 1823.3,477.4 1824.8,477.4 1826.3,477.3 1827.8,477.2 1829.3,477.1 1830.8,477.0 1832.3,477.0 1833.8,476.9 1835.3,476.8 1836.8,476.7 1838.3,476.7 1839.8,476.6" stroke="#f00"/>
<path d="M350.0,480.0L350.9,481.2 351.9,482.3 352.8,483.5 353.8,484.6 354.8,485.8 355.7,487.0 356.7,488.1 357.6,489.3 358.6,490.4 359.6,491.6 360.5,492.7 361.5,493.9 362.4,495.0 363.4,496.2 364.3,497.4 365.2,498.6 366.1,499.8 366.9,501.0 367.8,502.2 368.6,503.5 369.4,504.8 370.2,506.0 371.0,507.3 371.7,508.6 372.5,509.9 373.2,511.2 373.9,512.6 374.6,513.9 375.3,515.2 375.9,516.6 376.6,517.9 377.3,519.3 377.9,520.6 378.6,522.0 379.2,523.3 379.8,524.7 380.5,526.1 381.1,527.4 381.7,528.8 382.3,530.2 382.9,531.5 383.6,532.9 384.2,534.3 384.8,535.6 385.4,537.0 386.0,538.4 386.6,539.8 387.2,541.1 387.8,542.5 388.4,543.9 389.0,545.3 389.6,546.6 390.2,548.0 390.8,549.4 391.4,550.8 392.0,552.1 392.6,553.5 393.2,554.9 393.8,556.3 394.4,557.6 394.9,559.0 395.5,560.4 396.1,561.8 396.7,563.2 397.3,564.5 397.9,565.9 398.4,567.3 399.0,568.7 399.6,570.1 400.1,571.5 400.7,572.9 401.2,574.3 401.7,575.7 402.2,577.1 402.7,578.5 403.2,579.9 403.7,581.3 404.2,582.8 404.7,584.2 405.2,585.6 405.7,587.0 406.2,588.4 406.6,589.9 407.1,591.3 407.6,592.7 408.1,594.1 408.5,595.5 409.0,597.0 409.5,598.4 410.0,599.8 410.5,601.2 410.9,602.7 411.4,604.1 411.9,605.5 412.4,606.9 412.9,608.3 413.4,609.8 413.8,611.2 414.3,612.6 414.8,614.0 415.3,615.4 415.8,616.9 416.3,618.3 416.8,619.7 417.2,621.1 417.7,622.5 418.2,624.0 418.7,625.4 419.2,626.8 419.6,628.2 420.1,629.6 420.6,631.1 421.0,632.5 421.5,633.9 422.0,635.3 422.5,636.8 422.9,638.2 423.4,639.6 423.8,641.0 424.3,642.5 424.8,643.9 425.2,645.3 425.7,646.8 426.1,648.2 426.6,649.6 427.0,651.0 427.5,652.5 427.9,653.9 428.4,655.3 428.8,656.8 429.3,658.2 429.7,659.6 430.2,661.1 430.6,662.5 431.1,663.9 431.6,665.3 432.0,666.8 432.5,668.2 433.0,669.6 433.4,671.1 433.9,672.5 434.4,673.9 434.9,675.3 435.3,676.7 435.8,678.2 436.3,679.6 436.8,681.0 437.3,682.4 437.7,683.8 438.2,685.3 438.7,686.7 439.2,688.1 439.6,689.5 440.1,691.0 440.5,692.4 440.9,693.8 441.4,695.3 441.8,696.7 442.2,698.2 442.6,699.6 443.0,701.1 443.4,702.5 443.8,703.9 444.2,705.4 444.6,706.8 445.1,708.3 445.5,709.7 445.9,711.1 446.4,712.6 446.8,714.0 447.3,715.4 447.8,716.8 448.3,718.2 448.9,719.6 449.4,721.0 449.9,722.4 450.5,723.8 451.1,725.2 451.6,726.6 452.2,728.0 452.8,729.4 453.4,730.8 454.0,732.1 454.6,733.5 455.2,734.9 455.8,736.3 456.3,737.7 456.9,739.0 457.5,740.4 458.1,741.8 458.6,743.2 459.2,744.6 459.7,746.0 460.3,747.4 460.8,748.8 461.4,750.2 461.9,751.6 462.4,753.0 462.9,754.4 463.4,755.8 463.9,757.2 464.4,758.7 464.9,760.1 465.4,761.5 465.8,762.9 466.3,764.3 466.8,765.8 467.3,767.2 467.7,768.6 468.2,770.0 468.7,771.5 469.1,772.9 469.6,774.3 470.1,775.7 470.5,777.2 471.0,778.6 471.5,780.0 471.9,781.4 472.4,782.9 472.9,784.3 473.3,785.7 473.8,787.1 474.3,788.6 474.7,790.0 475.2,791.4 475.7,792.8 476.1,794.3 476.6,795.7 477.1,797.1 477.6,798.5 478.0,800.0 478.5,801.4 479.0,802.8 479.4,804.2 479.9,805.7 480.4,807.1 480.8,808.5 481.3,809.9 481.7,811.4 482.2,812.8 482.6,814.2 483.1,815.7 483.5,817.1 484.0,818.5 484.4,820.0 484.8,821.4 485.3,822.8 485.7,824.3 486.1,825.7 486.5,827.2 486.9,828.6 487.3,830.1 487.7,831.5 488.1,833.0 488.5,834.4 488.9,835.8 489.3,837.3 489.7,838.7 490.1,840.2 490.5,841.6 490.9,843.1 491.4,844.5 491.8,845.9 492.2,847.4 492.7,848.8 493.1,850.2 493.6,851.7 494.1,853.1 494.6,854.5 495.1,855.9 495.6,857.3 496.2,858.7 496.7,860.1 497.3,861.5 497.8,862.9 498.4,864.3 499.0,865.6 499.6,867.0 500.2,868.4 500.8,869.8 501.5,871.1 502.1,872.5 502.8,873.8 503.4,875.2 504.1,876.5 504.7,877.9 505.4,879.2 506.1,880.5 506.8,881.9 507.4,883.2 508.1,884.6 508.8,885.9 509.5,887.2 510.2,888.6 510.9,889.9 511.6,891.2 512.3,892.6 513.0,893.9 513.7,895.2 514.3,896.5 515.0,897.9 515.7,899.2 516.4,900.5 517.1,901.9 517.8,903.2 518.5,904.5 519.2,905.9 519.9,907.2 520.6,908.5 521.3,909.8 522.0,911.2 522.7,912.5 523.4,913.8 524.1,915.1 524.8,916.5 525.5,917.8 526.2,919.1 527.0,920.4 527.7,921.7 528.4,923.0 529.1,924.4 529.8,925.7 530.6,927.0 531.3,928.3 532.0,929.6 532.8,930.9 533.5,932.2 534.2,933.5 535.0,934.8 535.7,936.1 536.5,937.4 537.3,938.7 538.0,940.0 538.8,941.3 539.6,942.6 540.4,943.9 541.2,945.1 542.0,946.4 542.8,947.6 543.6,948.9 544.5,950.1 545.3,951.4 546.2,952.6 547.1,953.8 548.0,954.9 549.0,956.1 549.9,957.3 550.9,958.4 551.9,959.5 553.0,960.6 554.0,961.7 555.1,962.7 556.1,963.8 557.2,964.8 558.3,965.8 559.4,966.8 560.6,967.8 561.7,968.8 562.8,969.8 563.9,970.8 565.1,971.8 566.2,972.8 567.3,973.8 568.5,974.7 569.6,975.7 570.7,976.7 571.9,977.7 573.0,978.6 574.2,979.6 575.3,980.5 576.5,981.5 577.7,982.4 578.9,983.3 580.1,984.2 581.3,985.1 582.6,985.9 583.9,986.7 585.1,987.5 586.5,988.2 587.8,988.9 589.1,989.6 590.5,990.2 591.9,990.8 593.3,991.3 594.7,991.8 596.1,992.3 597.5,992.8 599.0,993.2 600.4,993.5 601.9,993.8 603.4,994.1 604.8,994.4 606.3,994.6 607.8,994.8 609.3,994.9 610.8,995.1 612.3,995.2 613.8,995.3 615.3,995.3 616.8,995.4 618.3,995.4 619.8,995.4 621.3,995.4 622.8,995.3 624.3,995.2 625.8,995.1 627.3,995.0 628.8,994.8 630.2,994.6 631.7,994.3 633.2,994.0 634.6,993.6 636.1,993.2 637.5,992.8 639.0,992.4 640.4,991.9 641.8,991.4 643.2,990.8 644.6,990.3 646.0,989.8 647.4,989.2 648.8,988.7 650.2,988.1 651.6,987.6 653.0,987.0 654.4,986.5 655.8,986.0 657.2,985.4 658.6,984.9 660.0,984.3 661.4,983.7 662.7,983.1 664.1,982.5 665.5,981.9 666.8,981.2 668.1,980.5 669.4,979.8 670.7,979.0 672.0,978.3 673.3,977.5 674.6,976.7 675.8,975.9 677.1,975.0 678.3,974.2 679.6,973.4 680.8,972.5 682.0,971.6 683.2,970.8 684.5,969.9 685.7,969.0 686.9,968.2 688.1,967.3 689.3,966.4 690.6,965.5 691.8,964.7 693.0,963.8 694.2,962.9 695.5,962.1 696.7,961.2 697.9,960.4 699.2,959.5 700.4,958.7 701.7,957.9 702.9,957.1 704.2,956.2 705.5,955.4 706.7,954.6 708.0,953.8 709.3,953.0 710.5,952.2 711.8,951.4 713.1,950.6 714.3,949.8 715.6,949.0 716.8,948.2 718.1,947.4 719.3,946.5 720.6,945.7 721.8,944.8 723.0,944.0 724.3,943.1 725.5,942.2 726.7,941.3 727.9,940.4 729.1,939.5 730.3,938.6 731.5,937.7 732.7,936.8 733.9,935.9 735.1,935.0 736.2,934.0 737.4,933.1 738.6,932.2 739.8,931.3 741.0,930.4 742.2,929.5 743.4,928.5 744.6,927.6 745.8,926.7 747.0,925.8 748.2,925.0 749.4,924.1 750.6,923.2 751.8,922.4 753.1,921.5 754.3,920.7 755.6,919.9 756.8,919.1 758.1,918.3 759.4,917.5 760.7,916.7 762.0,915.9 763.3,915.2 764.6,914.5 765.9,913.7 767.2,913.0 768.5,912.3 769.9,911.6 771.2,910.9 772.5,910.2 773.9,909.6 775.2,908.9 776.6,908.2 777.9,907.6 779.3,906.9 780.6,906.3 782.0,905.7 783.3,905.0 784.7,904.4 786.1,903.8 787.4,903.1 788.8,902.5 790.1,901.9 791.5,901.2 792.9,900.6 794.2,900.0 795.6,899.4 797.0,898.8 798.4,898.2 799.7,897.6 801.1,897.0 802.5,896.4 803.9,895.8 805.2,895.2 806.6,894.6 808.0,894.0 809.4,893.4 810.8,892.9 812.2,892.3 813.5,891.8 814.9,891.2 816.3,890.6 817.7,890.1 819.1,889.6 820.5,889.0 821.9,888.5 823.4,888.0 824.8,887.5 826.2,887.0 827.6,886.5 829.0,886.0 830.4,885.5 831.9,885.1 833.3,884.6 834.7,884.2 836.2,883.7 837.6,883.3 839.0,882.9 840.5,882.5 841.9,882.1 843.4,881.8 844.9,881.4 846.3,881.1 847.8,880.8 849.3,880.5 850.7,880.2 852.2,879.9 853.7,879.6 855.2,879.4 856.6,879.1 858.1,878.9 859.6,878.7 861.1,878.5 862.6,878.3 864.1,878.1 865.5,877.9 867.0,877.7 868.5,877.6 870.0,877.4 871.5,877.3 873.0,877.1 874.5,877.0 876.0,876.9 877.5,876.7 879.0,876.6 880.5,876.5 882.0,876.4 883.5,876.3 885.0,876.2 886.5,876.1 888.0,876.0 889.5,875.9 891.0,875.8 892.5,875.7 894.0,875.6 895.4,875.5 896.9,875.3 898.4,875.2 899.9,875.1 901.4,874.9 902.9,874.7 904.4,874.6 905.9,874.4 907.4,874.2 908.9,873.9 910.3,873.7 911.8,873.5 913.3,873.2 914.8,873.0 916.3,872.7 917.7,872.4 919.2,872.1 920.7,871.8 922.1,871.5 923.6,871.2 925.1,870.9 926.5,870.6 928.0,870.3 929.5,870.0 931.0,869.7 932.4,869.5 933.9,869.2 935.4,868.9 936.9,868.7 938.3,868.4 939.8,868.2 941.3,867.9 942.8,867.7 944.3,867.5 945.8,867.3 947.2,867.1 948.7,866.9 950.2,866.7 951.7,866.5 953.2,866.3 954.7,866.1 956.2,866.0 957.7,865.8 959.1,865.6 960.6,865.4 962.1,865.3 963.6,865.1 965.1,864.9 966.6,864.7 968.1,864.6 969.6,864.4 971.1,864.2 972.6,864.0 974.0,863.8 975.5,863.6 977.0,863.4 978.5,863.2 980.0,863.0 981.5,862.8 982.9,862.5 984.4,862.3 985.9,862.1 987.4,861.8 988.9,861.6 990.4,861.3 991.8,861.1 993.3,860.8 994.8,860.5 996.2,860.2 997.7,859.9 999.2,859.6 1000.7,859.3 1002.1,859.0 1003.6,858.6 1005.0,858.3 1006.5,858.0 1008.0,857.6 1009.4,857.2 1010.9,856.9 1012.3,856.5 1013.8,856.1 1015.2,855.7 1016.7,855.3 1018.1,854.9 1019.5,854.5 1021.0,854.1 1022.4,853.7 1023.9,853.2 1025.3,852.8 1026.7,852.4 1028.2,851.9 1029.6,851.5 1031.0,851.0 1032.5,850.6 1033.9,850.1 1035.3,849.7 1036.8,849.2 1038.2,848.7 1039.6,848.3 1041.0,847.8 1042.5,847.4 1043.9,846.9 1045.3,846.5 1046.8,846.0 1048.2,845.6 1049.6,845.1 1051.1,844.7 1052.5,844.3 1053.9,843.9 1055.4,843.5 1056.8,843.1 1058.3,842.7 1059.7,842.3 1061.2,842.0 1062.7,841.6 1064.1,841.3 1065.6,840.9 1067.0,840.6 1068.5,840.3 1070.0,840.0 1071.4,839.6 1072.9,839.3 1074.4,839.0 1075.8,838.6 1077.3,838.3 1078.7,837.9 1080.2,837.6 1081.6,837.2 1083.1,836.8 1084.5,836.3 1086.0,835.9 1087.4,835.5 1088.8,835.0 1090.2,834.5 1091.6,834.0 1093.0,833.4 1094.4,832.9 1095.8,832.3 1097.2,831.7 1098.6,831.1 1099.9,830.5 1101.3,829.8 1102.6,829.2 1104.0,828.5 1105.3,827.9 1106.7,827.2 1108.0,826.6 1109.4,825.9 1110.7,825.2 1112.1,824.6 1113.4,823.9 1114.8,823.3 1116.2,822.7 1117.5,822.1 1118.9,821.5 1120.3,820.9 1121.7,820.3 1123.1,819.8 1124.5,819.2 1125.9,818.7 1127.3,818.2 1128.7,817.7 1130.1,817.3 1131.6,816.8 1133.0,816.4 1134.5,816.0 1135.9,815.6 1137.3,815.2 1138.8,814.8 1140.2,814.4 1141.7,814.0 1143.1,813.5 1144.5,813.1 1146.0,812.7 1147.4,812.2 1148.8,811.8 1150.3,811.3 1151.7,810.8 1153.1,810.3 1154.5,809.8 1155.9,809.3 1157.3,808.8 1158.7,808.2 1160.1,807.7 1161.5,807.2 1162.9,806.6 1164.3,806.1 1165.7,805.5 1167.1,805.0 1168.5,804.4 1169.9,803.9 1171.3,803.4 1172.7,802.8 1174.1,802.3 1175.5,801.7 1176.9,801.2 1178.3,800.6 1179.7,800.1 1181.1,799.6 1182.5,799.0 1183.9,798.5 1185.3,798.0 1186.7,797.4 1188.1,796.9 1189.5,796.4 1190.9,795.8 1192.3,795.3 1193.7,794.8 1195.1,794.3 1196.5,793.8 1198.0,793.2 1199.4,792.7 1200.8,792.2 1202.2,791.7 1203.6,791.2 1205.0,790.8 1206.5,790.3 1207.9,789.8 1209.3,789.4 1210.7,788.9 1212.2,788.5 1213.6,788.0 1215.0,787.6 1216.5,787.2 1217.9,786.7 1219.4,786.3 1220.8,785.9 1222.2,785.5 1223.7,785.1 1225.1,784.7 1226.6,784.2 1228.0,783.8 1229.4,783.4 1230.9,783.0 1232.3,782.5 1233.7,782.1 1235.2,781.6 1236.6,781.1 1238.0,780.6 1239.4,780.2 1240.8,779.7 1242.3,779.1 1243.7,778.6 1245.1,778.1 1246.5,777.6 1247.9,777.0 1249.3,776.5 1250.6,775.9 1252.0,775.3 1253.4,774.7 1254.8,774.2 1256.2,773.6 1257.6,773.0 1258.9,772.3 1260.3,771.7 1261.6,771.1 1263.0,770.5 1264.4,769.8 1265.7,769.1 1267.0,768.5 1268.4,767.8 1269.7,767.1 1271.0,766.4 1272.3,765.7 1273.6,764.9 1274.9,764.2 1276.2,763.4 1277.5,762.6 1278.8,761.8 1280.0,761.0 1281.3,760.1 1282.5,759.3 1283.7,758.4 1284.9,757.5 1286.1,756.6 1287.3,755.7 1288.5,754.8 1289.7,753.9 1290.8,752.9 1292.0,752.0 1293.2,751.0 1294.3,750.0 1295.4,749.1 1296.6,748.1 1297.7,747.1 1298.9,746.1 1300.0,745.1 1301.1,744.1 1302.2,743.2 1303.4,742.2 1304.5,741.2 1305.6,740.2 1306.7,739.2 1307.8,738.1 1308.9,737.1 1310.0,736.1 1311.1,735.1 1312.2,734.1 1313.3,733.1 1314.4,732.0 1315.5,731.0 1316.6,730.0 1317.7,729.0 1318.8,727.9 1319.9,726.9 1321.0,725.9 1322.1,724.8 1323.2,723.8 1324.2,722.8 1325.3,721.7 1326.4,720.7 1327.5,719.7 1328.6,718.6 1329.6,717.6 1330.7,716.5 1331.8,715.5 1332.9,714.4 1334.0,713.4 1335.0,712.3 1336.1,711.3 1337.2,710.2 1338.2,709.2 1339.3,708.2 1340.4,707.1 1341.5,706.0 1342.5,705.0 1343.6,703.9 1344.7,702.9 1345.7,701.8 1346.8,700.8 1347.9,699.7 1348.9,698.7 1350.0,697.6 1351.0,696.5 1352.1,695.5 1353.2,694.4 1354.2,693.4 1355.3,692.3 1356.3,691.2 1357.4,690.2 1358.5,689.1 1359.5,688.0 1360.6,687.0 1361.6,685.9 1362.7,684.8 1363.7,683.8 1364.8,682.7 1365.8,681.6 1366.9,680.6 1367.9,679.5 1369.0,678.4 1370.0,677.3 1371.1,676.3 1372.1,675.2 1373.2,674.1 1374.2,673.0 1375.2,671.9 1376.3,670.9 1377.3,669.8 1378.4,668.7 1379.4,667.6 1380.4,666.5 1381.5,665.4 1382.5,664.4 1383.5,663.3 1384.6,662.2 1385.6,661.1 1386.6,660.0 1387.7,658.9 1388.7,657.8 1389.7,656.7 1390.7,655.6 1391.8,654.5 1392.8,653.4 1393.8,652.4 1394.8,651.3 1395.9,650.2 1396.9,649.1 1397.9,648.0 1398.9,646.9 1400.0,645.8 1401.0,644.7 1402.0,643.6 1403.0,642.5 1404.0,641.4 1405.0,640.3 1406.1,639.2 1407.1,638.1 1408.1,637.0 1409.1,635.9 1410.1,634.7 1411.1,633.6 1412.1,632.5 1413.1,631.4 1414.2,630.3 1415.2,629.2 1416.2,628.1 1417.1,626.9 1418.1,625.8 1419.1,624.7 1420.1,623.6 1421.1,622.4 1422.1,621.3 1423.1,620.2 1424.0,619.0 1425.0,617.9 1426.0,616.7 1427.0,615.6 1427.9,614.5 1428.9,613.3 1429.9,612.2 1430.9,611.1 1431.9,609.9 1432.9,608.8 1433.9,607.7 1434.9,606.6 1435.9,605.5 1436.9,604.4 1437.9,603.3 1439.0,602.2 1440.0,601.1 1441.0,600.0 1442.1,598.9 1443.1,597.9 1444.2,596.8 1445.2,595.7 1446.3,594.6 1447.3,593.6 1448.4,592.5 1449.4,591.4 1450.5,590.3 1451.5,589.3 1452.6,588.2 1453.6,587.2 1454.7,586.1 1455.8,585.0 1456.8,584.0 1457.9,582.9 1459.0,581.9 1460.0,580.8 1461.1,579.8 1462.2,578.8 1463.3,577.7 1464.4,576.7 1465.5,575.7 1466.6,574.6 1467.7,573.6 1468.8,572.6 1469.9,571.6 1471.0,570.6 1472.1,569.6 1473.3,568.6 1474.4,567.6 1475.5,566.7 1476.7,565.7 1477.8,564.8 1479.0,563.8 1480.2,562.9 1481.4,562.0 1482.6,561.1 1483.8,560.2 1485.0,559.3 1486.2,558.4 1487.4,557.5 1488.6,556.7 1489.9,555.8 1491.1,555.0 1492.4,554.2 1493.7,553.4 1494.9,552.6 1496.2,551.8 1497.5,551.0 1498.8,550.2 1500.1,549.5 1501.4,548.7 1502.7,548.0 1504.0,547.2 1505.3,546.5 1506.6,545.8 1507.9,545.0 1509.2,544.3 1510.5,543.6 1511.9,542.9 1513.2,542.2 1514.5,541.5 1515.8,540.8 1517.2,540.1 1518.5,539.4 1519.8,538.7 1521.1,538.0 1522.5,537.3 1523.8,536.6 1525.1,535.9 1526.5,535.2 1527.8,534.6 1529.2,533.9 1530.5,533.2 1531.8,532.5 1533.2,531.9 1534.5,531.2 1535.9,530.6 1537.2,529.9 1538.6,529.3 1539.9,528.6 1541.3,528.0 1542.6,527.3 1544.0,526.7 1545.4,526.1 1546.7,525.4 1548.1,524.8 1549.4,524.2 1550.8,523.6 1552.2,522.9 1553.5,522.3 1554.9,521.7 1556.3,521.1 1557.6,520.4 1559.0,519.8 1560.4,519.2 1561.7,518.6 1563.1,517.9 1564.4,517.3 1565.8,516.7 1567.2,516.0 1568.5,515.4 1569.9,514.8 1571.2,514.1 1572.6,513.5 1574.0,512.9 1575.3,512.2 1576.7,511.6 1578.0,511.0 1579.4,510.3 1580.8,509.7 1582.1,509.1 1583.5,508.5 1584.9,507.8 1586.2,507.2 1587.6,506.6 1589.0,506.0 1590.4,505.5 1591.8,504.9 1593.1,504.3 1594.5,503.8 1595.9,503.2 1597.3,502.7 1598.7,502.2 1600.2,501.7 1601.6,501.2 1603.0,500.7 1604.4,500.2 1605.8,499.8 1607.3,499.3 1608.7,498.9 1610.2,498.5 1611.6,498.1 1613.0,497.7 1614.5,497.3 1615.9,496.9 1617.4,496.5 1618.9,496.2 1620.3,495.8 1621.8,495.5 1623.2,495.1 1624.7,494.8 1626.2,494.4 1627.6,494.1 1629.1,493.8 1630.5,493.4 1632.0,493.1 1633.5,492.8 1634.9,492.5 1636.4,492.1 1637.9,491.8 1639.3,491.5 1640.8,491.2 1642.3,490.9 1643.7,490.6 1645.2,490.3 1646.7,490.0 1648.1,489.7 1649.6,489.4 1651.1,489.1 1652.6,488.8 1654.0,488.5 1655.5,488.2 1657.0,487.9 1658.4,487.7 1659.9,487.4 1661.4,487.1 1662.9,486.9 1664.4,486.6 1665.8,486.4 1667.3,486.1 1668.8,485.9 1670.3,485.6 1671.8,485.4 1673.2,485.2 1674.7,484.9 1676.2,484.7 1677.7,484.5 1679.2,484.2 1680.7,484.0 1682.1,483.8 1683.6,483.6 1685.1,483.4 1686.6,483.2 1688.1,483.0 1689.6,482.8 1691.1,482.6 1692.5,482.4 1694.0,482.2 1695.5,482.1 1697.0,481.9 1698.5,481.7 1700.0,481.5 1701.5,481.4 1703.0,481.2 1704.5,481.1 1706.0,480.9 1707.4,480.8 1708.9,480.6 1710.4,480.5 1711.9,480.3 1713.4,480.2 1714.9,480.1 1716.4,479.9 1717.9,479.8 1719.4,479.7 1720.9,479.6 1722.4,479.4 1723.9,479.3 1725.4,479.2 1726.9,479.1 1728.4,479.0 1729.9,478.9 1731.4,478.7 1732.9,478.6 1734.4,478.5 1735.9,478.4 1737.3,478.3 1738.8,478.2 1740.3,478.1 1741.8,477.9 1743.3,477.8 1744.8,477.7 1746.3,477.6 1747.8,477.5 1749.3,477.4 1750.8,477.3 1752.3,477.2 1753.8,477.1 1755.3,477.0 1756.8,476.9 1758.3,476.8 1759.8,476.7 1761.3,476.6 1762.8,476.5 1764.3,476.4 1765.8,476.3 1767.3,476.1 1768.8,476.0 1770.3,475.9 1771.8,475.8 1773.3,475.7 1774.8,475.6 1776.2,475.5 1777.7,475.4 1779.2,475.3 1780.7,475.2 1782.2,475.1 1783.7,475.0 1785.2,474.9 1786.7,474.8 1788.2,474.7 1789.7,474.6 1791.2,474.5 1792.7,474.4 1794.2,474.3 1795.7,474.2 1797.2,474.1 1798.7,473.9 1800.2,473.8 1801.7,473.7 1803.2,473.6 1804.7,473.5 1806.2,473.4 1807.7,473.3 1809.2,473.2 1810.7,473.1 1812.2,473.0 1813.7,472.9 1815.2,472.8 1816.6,472.7 1818.1,472.6 1819.6,472.5 1821.1,472.4 1822.6,472.3 1824.1,472.2 1825.6,472.1 1827.1,472.0 1828.6,471.9 1830.1,471.8 1831.6,471.7 1833.1,471.6 1834.6,471.5 1836.1,471.4 1837.6,471.3 1839.1,471.2" stroke="#00f"/>
<path d="M350.0,423.0L350.7,424.3 351.4,425.7 352.1,427.0 352.7,428.3 353.4,429.7 354.1,431.0 354.8,432.3 355.5,433.7 356.1,435.0 356.8,436.4 357.5,437.7 358.1,439.1 358.8,440.4 359.4,441.8 360.1,443.1 360.8,444.5 361.4,445.8 362.1,447.2 362.7,448.5 363.4,449.9 364.0,451.2 364.7,452.6 365.3,453.9 366.0,455.3 366.6,456.6 367.3,458.0 367.9,459.3 368.6,460.7 369.2,462.0 369.9,463.4 370.5,464.7 371.2,466.1 371.8,467.4 372.5,468.8 373.1,470.1 373.7,471.5 374.4,472.9 375.0,474.2 375.6,475.6 376.2,477.0 376.9,478.3 377.5,479.7 378.1,481.1 378.7,482.4 379.2,483.8 379.8,485.2 380.4,486.6 381.0,488.0 381.5,489.4 382.1,490.8 382.6,492.2 383.1,493.6 383.6,495.0 384.1,496.4 384.6,497.8 385.1,499.2 385.6,500.7 386.1,502.1 386.6,503.5 387.0,504.9 387.5,506.4 387.9,507.8 388.4,509.2 388.8,510.7 389.3,512.1 389.7,513.5 390.1,515.0 390.6,516.4 391.0,517.8 391.4,519.3 391.9,520.7 392.3,522.1 392.7,523.6 393.2,525.0 393.6,526.4 394.1,527.9 394.5,529.3 395.0,530.7 395.4,532.2 395.9,533.6 396.4,535.0 396.8,536.4 397.3,537.9 397.8,539.3 398.3,540.7 398.7,542.1 399.2,543.5 399.7,545.0 400.2,546.4 400.7,547.8 401.1,549.2 401.6,550.7 402.1,552.1 402.6,553.5 403.0,554.9 403.5,556.3 404.0,557.8 404.5,559.2 404.9,560.6 405.4,562.0 405.9,563.5 406.4,564.9 406.8,566.3 407.3,567.7 407.8,569.1 408.3,570.6 408.7,572.0 409.2,573.4 409.7,574.8 410.2,576.3 410.7,577.7 411.1,579.1 411.6,580.5 412.1,581.9 412.6,583.4 413.1,584.8 413.6,586.2 414.0,587.6 414.5,589.0 415.0,590.5 415.5,591.9 415.9,593.3 416.4,594.7 416.9,596.2 417.3,597.6 417.8,599.0 418.3,600.4 418.7,601.9 419.2,603.3 419.6,604.7 420.0,606.2 420.5,607.6 420.9,609.0 421.4,610.5 421.8,611.9 422.2,613.3 422.7,614.8 423.1,616.2 423.5,617.7 424.0,619.1 424.4,620.5 424.9,622.0 425.3,623.4 425.8,624.8 426.2,626.2 426.7,627.7 427.1,629.1 427.6,630.5 428.1,632.0 428.5,633.4 429.0,634.8 429.5,636.2 430.0,637.6 430.4,639.1 430.9,640.5 431.4,641.9 431.9,643.3 432.3,644.8 432.8,646.2 433.3,647.6 433.7,649.0 434.2,650.5 434.7,651.9 435.1,653.3 435.6,654.7 436.1,656.2 436.5,657.6 437.0,659.0 437.4,660.4 437.9,661.9 438.4,663.3 438.8,664.7 439.3,666.2 439.7,667.6 440.2,669.0 440.6,670.5 441.1,671.9 441.5,673.3 442.0,674.7 442.4,676.2 442.9,677.6 443.3,679.0 443.8,680.5 444.2,681.9 444.7,683.3 445.1,684.8 445.6,686.2 446.0,687.6 446.4,689.1 446.9,690.5 447.3,691.9 447.7,693.4 448.2,694.8 448.6,696.2 449.0,697.7 449.5,699.1 449.9,700.6 450.3,702.0 450.7,703.4 451.2,704.9 451.6,706.3 452.0,707.7 452.5,709.2 452.9,710.6 453.4,712.0 453.9,713.5 454.3,714.9 454.8,716.3 455.3,717.7 455.8,719.2 456.3,720.6 456.8,722.0 457.3,723.4 457.8,724.8 458.3,726.2 458.8,727.6 459.3,729.0 459.9,730.4 460.4,731.8 460.9,733.2 461.4,734.6 462.0,736.0 462.5,737.5 463.0,738.9 463.5,740.3 464.0,741.7 464.6,743.1 465.1,744.5 465.6,745.9 466.1,747.3 466.6,748.7 467.1,750.2 467.5,751.6 468.0,753.0 468.5,754.4 469.0,755.8 469.5,757.3 469.9,758.7 470.4,760.1 470.9,761.5 471.3,763.0 471.8,764.4 472.3,765.8 472.7,767.2 473.2,768.7 473.6,770.1 474.1,771.5 474.6,773.0 475.0,774.4 475.5,775.8 476.0,777.2 476.4,778.7 476.9,780.1 477.4,781.5 477.9,782.9 478.4,784.3 478.9,785.8 479.3,787.2 479.8,788.6 480.3,790.0 480.8,791.4 481.4,792.8 481.9,794.2 482.4,795.6 482.9,797.1 483.4,798.5 483.9,799.9 484.5,801.3 485.0,802.7 485.5,804.1 486.1,805.5 486.6,806.9 487.2,808.3 487.7,809.7 488.2,811.1 488.8,812.5 489.3,813.9 489.9,815.3 490.4,816.7 491.0,818.1 491.5,819.5 492.0,820.9 492.6,822.3 493.1,823.6 493.7,825.0 494.2,826.4 494.8,827.8 495.3,829.2 495.9,830.6 496.4,832.0 497.0,833.4 497.5,834.8 498.1,836.2 498.6,837.6 499.2,839.0 499.7,840.4 500.3,841.8 500.9,843.2 501.4,844.6 502.0,846.0 502.6,847.3 503.1,848.7 503.7,850.1 504.3,851.5 504.9,852.9 505.5,854.3 506.0,855.6 506.6,857.0 507.2,858.4 507.8,859.8 508.4,861.2 509.0,862.5 509.6,863.9 510.2,865.3 510.8,866.7 511.4,868.0 512.0,869.4 512.6,870.8 513.2,872.1 513.8,873.5 514.5,874.9 515.1,876.3 515.7,877.6 516.3,879.0 517.0,880.3 517.6,881.7 518.2,883.0 518.9,884.4 519.6,885.7 520.2,887.1 520.9,888.4 521.6,889.8 522.3,891.1 522.9,892.4 523.6,893.8 524.4,895.1 525.1,896.4 525.8,897.7 526.5,899.0 527.3,900.3 528.0,901.6 528.8,902.9 529.5,904.2 530.3,905.5 531.1,906.8 531.9,908.1 532.7,909.3 533.4,910.6 534.2,911.9 535.0,913.2 535.8,914.4 536.7,915.7 537.5,916.9 538.3,918.2 539.1,919.5 539.9,920.7 540.8,922.0 541.6,923.2 542.5,924.4 543.3,925.7 544.1,926.9 545.0,928.1 545.9,929.4 546.7,930.6 547.6,931.8 548.5,933.0 549.4,934.2 550.3,935.4 551.2,936.6 552.2,937.8 553.1,938.9 554.1,940.1 555.0,941.2 556.0,942.4 557.0,943.5 558.1,944.6 559.1,945.7 560.1,946.7 561.2,947.8 562.3,948.8 563.4,949.9 564.5,950.9 565.6,951.9 566.7,952.9 567.8,953.9 568.9,955.0 570.0,956.0 571.1,956.9 572.2,957.9 573.4,958.9 574.5,959.9 575.7,960.8 576.9,961.8 578.0,962.7 579.2,963.6 580.4,964.5 581.7,965.4 582.9,966.2 584.2,967.0 585.4,967.8 586.7,968.6 588.0,969.3 589.4,970.0 590.7,970.7 592.1,971.3 593.4,972.0 594.8,972.5 596.2,973.1 597.6,973.6 599.0,974.1 600.5,974.6 601.9,975.0 603.3,975.4 604.8,975.7 606.3,976.1 607.7,976.3 609.2,976.6 610.7,976.8 612.2,977.0 613.7,977.2 615.2,977.3 616.7,977.4 618.2,977.5 619.7,977.5 621.2,977.5 622.7,977.5 624.2,977.5 625.7,977.4 627.2,977.3 628.6,977.2 630.1,977.0 631.6,976.8 633.1,976.6 634.6,976.4 636.1,976.1 637.5,975.8 639.0,975.5 640.5,975.2 641.9,974.9 643.4,974.5 644.8,974.1 646.3,973.7 647.7,973.3 649.2,972.8 650.6,972.4 652.0,971.9 653.4,971.5 654.9,971.0 656.3,970.5 657.7,969.9 659.1,969.4 660.5,968.8 661.8,968.2 663.2,967.6 664.6,967.0 665.9,966.3 667.3,965.7 668.6,964.9 669.9,964.2 671.2,963.5 672.5,962.7 673.8,961.9 675.0,961.1 676.3,960.3 677.5,959.5 678.8,958.6 680.0,957.8 681.3,956.9 682.5,956.1 683.7,955.2 684.9,954.4 686.2,953.5 687.4,952.6 688.6,951.7 689.8,950.9 691.0,950.0 692.2,949.1 693.5,948.2 694.7,947.4 695.9,946.5 697.1,945.6 698.4,944.8 699.6,943.9 700.8,943.0 702.0,942.2 703.3,941.3 704.5,940.5 705.8,939.6 707.0,938.8 708.2,938.0 709.5,937.1 710.7,936.3 712.0,935.4 713.2,934.6 714.5,933.8 715.7,932.9 716.9,932.1 718.2,931.2 719.4,930.4 720.7,929.5 721.9,928.7 723.1,927.8 724.3,926.9 725.6,926.1 726.8,925.2 728.0,924.3 729.2,923.4 730.4,922.6 731.6,921.7 732.8,920.8 734.0,919.9 735.3,919.0 736.5,918.1 737.7,917.2 738.9,916.3 740.1,915.5 741.3,914.6 742.5,913.7 743.8,912.9 745.0,912.0 746.2,911.2 747.5,910.3 748.7,909.5 750.0,908.7 751.3,907.9 752.6,907.1 753.9,906.4 755.2,905.6 756.5,904.9 757.8,904.2 759.1,903.5 760.5,902.8 761.8,902.2 763.2,901.5 764.5,900.9 765.9,900.3 767.3,899.7 768.7,899.1 770.1,898.6 771.5,898.0 772.9,897.5 774.3,897.0 775.7,896.5 777.1,896.0 778.5,895.5 779.9,895.0 781.3,894.5 782.8,894.0 784.2,893.5 785.6,893.0 787.0,892.5 788.4,892.1 789.9,891.6 791.3,891.1 792.7,890.6 794.1,890.2 795.6,889.7 797.0,889.2 798.4,888.7 799.8,888.3 801.3,887.8 802.7,887.4 804.1,886.9 805.5,886.5 807.0,886.0 808.4,885.6 809.8,885.1 811.3,884.7 812.7,884.3 814.2,883.8 815.6,883.4 817.0,883.0 818.5,882.6 819.9,882.2 821.4,881.8 822.8,881.4 824.3,881.0 825.7,880.6 827.2,880.2 828.6,879.8 830.1,879.5 831.5,879.1 833.0,878.8 834.4,878.4 835.9,878.0 837.3,877.7 838.8,877.3 840.3,876.9 841.7,876.5 843.1,876.1 844.6,875.7 846.0,875.3 847.5,874.8 848.9,874.3 850.3,873.9 851.7,873.4 853.1,872.8 854.5,872.3 855.9,871.8 857.3,871.2 858.7,870.7 860.1,870.1 861.5,869.6 862.9,869.1 864.3,868.6 865.7,868.0 867.2,867.6 868.6,867.1 870.0,866.7 871.5,866.2 872.9,865.9 874.4,865.5 875.8,865.2 877.3,864.8 878.8,864.6 880.2,864.3 881.7,864.0 883.2,863.8 884.7,863.6 886.2,863.4 887.7,863.2 889.1,863.0 890.6,862.8 892.1,862.7 893.6,862.5 895.1,862.3 896.6,862.1 898.1,862.0 899.6,861.8 901.1,861.6 902.5,861.4 904.0,861.2 905.5,861.0 907.0,860.8 908.5,860.5 910.0,860.3 911.4,860.0 912.9,859.8 914.4,859.5 915.9,859.3 917.4,859.0 918.8,858.7 920.3,858.4 921.8,858.2 923.2,857.9 924.7,857.6 926.2,857.3 927.7,857.1 929.2,856.8 930.6,856.6 932.1,856.3 933.6,856.1 935.1,855.8 936.6,855.6 938.0,855.4 939.5,855.2 941.0,855.1 942.5,854.9 944.0,854.7 945.5,854.6 947.0,854.5 948.5,854.3 950.0,854.2 951.5,854.1 953.0,854.0 954.5,853.9 956.0,853.8 957.5,853.7 959.0,853.6 960.5,853.6 962.0,853.5 963.5,853.4 965.0,853.3 966.4,853.2 967.9,853.1 969.4,853.0 970.9,852.8 972.4,852.7 973.9,852.6 975.4,852.4 976.9,852.3 978.4,852.1 979.9,852.0 981.4,851.8 982.9,851.6 984.4,851.4 985.9,851.2 987.3,851.0 988.8,850.8 990.3,850.6 991.8,850.4 993.3,850.2 994.8,849.9 996.2,849.7 997.7,849.4 999.2,849.2 1000.7,848.9 1002.1,848.6 1003.6,848.4 1005.1,848.1 1006.6,847.8 1008.0,847.5 1009.5,847.2 1011.0,846.9 1012.4,846.6 1013.9,846.3 1015.4,846.0 1016.9,845.7 1018.3,845.4 1019.8,845.2 1021.3,844.9 1022.7,844.6 1024.2,844.3 1025.7,844.0 1027.2,843.8 1028.6,843.5 1030.1,843.2 1031.6,843.0 1033.1,842.7 1034.6,842.5 1036.0,842.2 1037.5,842.0 1039.0,841.7 1040.5,841.5 1041.9,841.2 1043.4,840.9 1044.9,840.7 1046.4,840.4 1047.9,840.2 1049.3,839.9 1050.8,839.6 1052.3,839.3 1053.8,839.1 1055.2,838.8 1056.7,838.5 1058.2,838.2 1059.6,837.9 1061.1,837.6 1062.6,837.3 1064.0,837.0 1065.5,836.7 1067.0,836.4 1068.4,836.0 1069.9,835.7 1071.4,835.4 1072.8,835.1 1074.3,834.7 1075.8,834.4 1077.2,834.1 1078.7,833.7 1080.1,833.4 1081.6,833.0 1083.1,832.7 1084.5,832.3 1086.0,832.0 1087.4,831.6 1088.9,831.3 1090.4,830.9 1091.8,830.6 1093.3,830.2 1094.7,829.8 1096.2,829.5 1097.6,829.1 1099.1,828.7 1100.5,828.4 1102.0,828.0 1103.4,827.6 1104.9,827.2 1106.3,826.9 1107.8,826.5 1109.2,826.1 1110.7,825.7 1112.1,825.3 1113.6,824.9 1115.0,824.5 1116.5,824.2 1117.9,823.8 1119.4,823.4 1120.8,823.0 1122.3,822.6 1123.7,822.2 1125.2,821.8 1126.6,821.4 1128.1,821.0 1129.5,820.6 1131.0,820.2 1132.4,819.8 1133.9,819.4 1135.3,819.0 1136.8,818.6 1138.2,818.2 1139.6,817.8 1141.1,817.3 1142.5,816.9 1143.9,816.5 1145.4,816.0 1146.8,815.5 1148.2,815.1 1149.6,814.6 1151.0,814.1 1152.5,813.6 1153.9,813.1 1155.3,812.5 1156.7,812.0 1158.1,811.5 1159.5,811.0 1160.9,810.4 1162.3,809.9 1163.7,809.3 1165.1,808.8 1166.5,808.2 1167.9,807.7 1169.3,807.1 1170.7,806.6 1172.1,806.1 1173.5,805.5 1174.9,805.0 1176.3,804.4 1177.7,803.9 1179.1,803.4 1180.5,802.8 1181.9,802.3 1183.3,801.7 1184.7,801.2 1186.1,800.7 1187.5,800.1 1188.9,799.6 1190.3,799.1 1191.7,798.6 1193.1,798.0 1194.5,797.5 1195.9,797.0 1197.3,796.5 1198.7,796.0 1200.1,795.5 1201.5,795.0 1203.0,794.5 1204.4,794.0 1205.8,793.5 1207.2,793.0 1208.7,792.6 1210.1,792.1 1211.5,791.7 1212.9,791.2 1214.4,790.8 1215.8,790.4 1217.3,789.9 1218.7,789.5 1220.1,789.1 1221.6,788.7 1223.0,788.3 1224.5,787.8 1225.9,787.4 1227.3,787.0 1228.8,786.6 1230.2,786.2 1231.7,785.7 1233.1,785.3 1234.5,784.8 1235.9,784.3 1237.4,783.9 1238.8,783.4 1240.2,782.9 1241.6,782.3 1243.0,781.8 1244.4,781.3 1245.8,780.7 1247.2,780.2 1248.6,779.6 1250.0,779.0 1251.4,778.5 1252.7,777.9 1254.1,777.3 1255.5,776.7 1256.8,776.1 1258.2,775.4 1259.6,774.8 1260.9,774.2 1262.3,773.6 1263.7,772.9 1265.0,772.3 1266.4,771.6 1267.7,771.0 1269.1,770.3 1270.4,769.7 1271.8,769.0 1273.1,768.3 1274.5,767.7 1275.8,767.0 1277.1,766.3 1278.5,765.6 1279.8,764.9 1281.1,764.3 1282.5,763.5 1283.8,762.8 1285.1,762.1 1286.4,761.4 1287.7,760.6 1289.0,759.9 1290.3,759.1 1291.6,758.3 1292.8,757.5 1294.1,756.7 1295.4,755.9 1296.6,755.1 1297.9,754.3 1299.1,753.4 1300.3,752.6 1301.6,751.7 1302.8,750.9 1304.0,750.0 1305.2,749.1 1306.5,748.2 1307.7,747.3 1308.9,746.4 1310.1,745.5 1311.3,744.6 1312.5,743.7 1313.6,742.8 1314.8,741.9 1316.0,741.0 1317.2,740.0 1318.4,739.1 1319.5,738.2 1320.7,737.2 1321.9,736.3 1323.0,735.3 1324.2,734.3 1325.3,733.4 1326.4,732.4 1327.6,731.4 1328.7,730.4 1329.8,729.4 1331.0,728.4 1332.1,727.4 1333.2,726.4 1334.3,725.4 1335.4,724.4 1336.5,723.4 1337.6,722.4 1338.7,721.3 1339.8,720.3 1340.8,719.3 1341.9,718.2 1343.0,717.2 1344.1,716.1 1345.1,715.1 1346.2,714.0 1347.3,713.0 1348.4,711.9 1349.4,710.9 1350.5,709.8 1351.5,708.7 1352.6,707.7 1353.7,706.6 1354.7,705.6 1355.8,704.5 1356.8,703.4 1357.9,702.4 1358.9,701.3 1360.0,700.2 1361.1,699.2 1362.1,698.1 1363.2,697.0 1364.2,696.0 1365.3,694.9 1366.3,693.9 1367.4,692.8 1368.5,691.7 1369.5,690.7 1370.6,689.6 1371.7,688.6 1372.7,687.5 1373.8,686.4 1374.9,685.4 1375.9,684.3 1377.0,683.3 1378.1,682.2 1379.1,681.2 1380.2,680.1 1381.3,679.1 1382.3,678.0 1383.4,677.0 1384.5,675.9 1385.5,674.9 1386.6,673.8 1387.7,672.8 1388.7,671.7 1389.8,670.7 1390.9,669.6 1392.0,668.6 1393.0,667.5 1394.1,666.5 1395.2,665.4 1396.2,664.3 1397.3,663.3 1398.4,662.2 1399.4,661.2 1400.5,660.1 1401.6,659.1 1402.6,658.0 1403.7,657.0 1404.8,655.9 1405.8,654.8 1406.9,653.8 1408.0,652.7 1409.0,651.7 1410.1,650.6 1411.1,649.5 1412.2,648.5 1413.2,647.4 1414.3,646.3 1415.3,645.3 1416.4,644.2 1417.4,643.1 1418.5,642.0 1419.5,640.9 1420.5,639.9 1421.6,638.8 1422.6,637.7 1423.6,636.6 1424.7,635.5 1425.7,634.4 1426.7,633.3 1427.7,632.2 1428.8,631.1 1429.8,630.0 1430.8,629.0 1431.9,627.9 1432.9,626.8 1433.9,625.7 1435.0,624.6 1436.0,623.6 1437.1,622.5 1438.1,621.4 1439.2,620.3 1440.3,619.3 1441.3,618.2 1442.4,617.2 1443.4,616.1 1444.5,615.0 1445.6,614.0 1446.6,612.9 1447.7,611.9 1448.8,610.8 1449.8,609.8 1450.9,608.7 1452.0,607.7 1453.0,606.6 1454.1,605.6 1455.2,604.5 1456.2,603.5 1457.3,602.4 1458.4,601.4 1459.5,600.3 1460.6,599.3 1461.6,598.3 1462.7,597.2 1463.8,596.2 1464.9,595.2 1466.0,594.1 1467.1,593.1 1468.2,592.1 1469.3,591.1 1470.5,590.1 1471.6,589.1 1472.7,588.1 1473.9,587.2 1475.0,586.2 1476.2,585.2 1477.3,584.3 1478.5,583.3 1479.6,582.4 1480.8,581.5 1482.0,580.6 1483.2,579.6 1484.4,578.8 1485.6,577.9 1486.9,577.0 1488.1,576.1 1489.3,575.3 1490.6,574.4 1491.8,573.6 1493.1,572.8 1494.3,572.0 1495.6,571.2 1496.9,570.4 1498.1,569.6 1499.4,568.8 1500.7,568.1 1502.0,567.3 1503.3,566.6 1504.6,565.8 1505.9,565.1 1507.2,564.3 1508.5,563.6 1509.8,562.9 1511.2,562.2 1512.5,561.4 1513.8,560.7 1515.1,560.0 1516.4,559.3 1517.8,558.6 1519.1,557.9 1520.4,557.2 1521.7,556.5 1523.1,555.8 1524.4,555.1 1525.7,554.4 1527.1,553.8 1528.4,553.1 1529.8,552.4 1531.1,551.7 1532.4,551.1 1533.8,550.4 1535.1,549.8 1536.5,549.1 1537.9,548.5 1539.2,547.8 1540.6,547.2 1541.9,546.6 1543.3,545.9 1544.7,545.3 1546.0,544.7 1547.4,544.1 1548.8,543.5 1550.1,542.8 1551.5,542.2 1552.9,541.6 1554.2,541.0 1555.6,540.4 1557.0,539.8 1558.4,539.2 1559.7,538.6 1561.1,538.0 1562.5,537.4 1563.8,536.8 1565.2,536.2 1566.6,535.6 1568.0,535.0 1569.3,534.4 1570.7,533.8 1572.1,533.2 1573.5,532.6 1574.8,532.0 1576.2,531.4 1577.6,530.8 1579.0,530.2 1580.4,529.6 1581.7,529.1 1583.1,528.5 1584.5,527.9 1585.9,527.3 1587.3,526.8 1588.7,526.2 1590.1,525.7 1591.5,525.2 1592.9,524.6 1594.3,524.1 1595.7,523.6 1597.1,523.1 1598.6,522.7 1600.0,522.2 1601.4,521.7 1602.9,521.3 1604.3,520.8 1605.7,520.4 1607.2,520.0 1608.6,519.6 1610.1,519.2 1611.5,518.8 1613.0,518.4 1614.4,518.1 1615.9,517.7 1617.3,517.4 1618.8,517.0 1620.3,516.7 1621.7,516.4 1623.2,516.1 1624.7,515.8 1626.1,515.5 1627.6,515.2 1629.1,514.9 1630.5,514.6 1632.0,514.3 1633.5,514.1 1635.0,513.8 1636.4,513.5 1637.9,513.3 1639.4,513.0 1640.9,512.8 1642.4,512.6 1643.9,512.3 1645.3,512.1 1646.8,511.9 1648.3,511.7 1649.8,511.5 1651.3,511.3 1652.8,511.1 1654.3,510.9 1655.7,510.7 1657.2,510.5 1658.7,510.4 1660.2,510.2 1661.7,510.0 1663.2,509.8 1664.7,509.6 1666.2,509.5 1667.7,509.3 1669.1,509.1 1670.6,508.9 1672.1,508.7 1673.6,508.6 1675.1,508.4 1676.6,508.2 1678.1,508.1 1679.6,507.9 1681.1,507.7 1682.6,507.6 1684.0,507.4 1685.5,507.2 1687.0,507.1 1688.5,506.9 1690.0,506.8 1691.5,506.6 1693.0,506.4 1694.5,506.3 1696.0,506.1 1697.5,505.9 1699.0,505.8 1700.4,505.6 1701.9,505.4 1703.4,505.3 1704.9,505.1 1706.4,504.9 1707.9,504.7 1709.4,504.6 1710.9,504.4 1712.4,504.2 1713.9,504.1 1715.3,503.9 1716.8,503.7 1718.3,503.5 1719.8,503.4 1721.3,503.2 1722.8,503.1 1724.3,502.9 1725.8,502.8 1727.3,502.6 1728.8,502.5 1730.3,502.4 1731.8,502.2 1733.3,502.1 1734.8,502.0 1736.3,501.9 1737.8,501.9 1739.3,501.8 1740.8,501.7 1742.3,501.7 1743.7,501.6 1745.2,501.5 1746.7,501.5 1748.2,501.4 1749.7,501.4 1751.2,501.3 1752.7,501.3 1754.2,501.2 1755.7,501.2 1757.2,501.1 1758.7,501.0 1760.2,501.0 1761.7,500.9 1763.2,500.8 1764.7,500.7 1766.2,500.7 1767.7,500.6 1769.2,500.5 1770.7,500.4 1772.2,500.3 1773.7,500.2 1775.2,500.2 1776.7,500.1 1778.2,500.0 1779.7,499.9 1781.2,499.8 1782.7,499.7 1784.2,499.7 1785.7,499.6 1787.2,499.5 1788.7,499.4 1790.2,499.3 1791.7,499.2 1793.2,499.2 1794.7,499.1 1796.2,499.0 1797.7,498.9 1799.2,498.8 1800.7,498.7 1802.2,498.6 1803.7,498.6 1805.2,498.5 1806.7,498.4 1808.2,498.3 1809.7,498.2 1811.2,498.1 1812.7,498.0 1814.2,498.0 1815.7,497.9 1817.1,497.8 1818.6,497.7 1820.1,497.6 1821.6,497.5 1823.1,497.4 1824.6,497.4 1826.1,497.3 1827.6,497.2 1829.1,497.1 1830.6,497.0 1832.1,496.9 1833.6,496.9 1835.1,496.8 1836.6,496.7 1838.1,496.6 1839.6,496.5" stroke="#0f0"/>
</g>
<text x="317.3" y="82.5" font-size="79" text-anchor="end">15</text>
<text x="317.3" y="214.6" font-size="79" text-anchor="end">10</text>
<text x="317.3" y="346.7" font-size="79" text-anchor="end">5</text>
<text x="317.3" y="478.8" font-size="79" text-anchor="end">0</text>
<text x="317.3" y="610.8" font-size="79" text-anchor="end">-5</text>
<text x="317.3" y="742.9" font-size="79" text-anchor="end">-10</text>
<text x="317.3" y="875.0" font-size="79" text-anchor="end">-15</text>
<text x="317.3" y="1007.1" font-size="79" text-anchor="end">-20</text>
<text x="317.3" y="1139.2" font-size="79" text-anchor="end">-25</text>
<text x="317.3" y="1271.2" font-size="79" text-anchor="end">-30</text>
<text x="413.0" y="1347.7" font-size="79" text-anchor="middle">200</text>
<text x="696.7" y="1347.7" font-size="79" text-anchor="middle">210</text>
<text x="980.3" y="1347.7" font-size="79" text-anchor="middle">220</text>
<text x="1264.0" y="1347.7" font-size="79" text-anchor="middle">230</text>
<text x="1547.6" y="1347.7" font-size="79" text-anchor="middle">240</text>
<text x="1831.3" y="1347.7" font-size="79" text-anchor="middle">250</text>
<text x="1093" y="1486" font-size="102" text-anchor="middle">Wavelength (nm)</text>
<text transform="translate(127.8,604.4) rotate(-90)" x="0" y="0" font-size="100.8" text-anchor="middle">[θ],10<tspan dy="-25.5">3</tspan><tspan dy="25.5"> deg·cm</tspan><tspan dy="-25.5">2</tspan><tspan dy="25.5">/dmol</tspan></text>
<rect x="1314" y="113.8" width="160" height="15" rx="4" fill="#f00"/>
<text x="1503.0" y="148.4" font-size="74">Lysozyme</text>
<rect x="1314" y="205.3" width="160" height="15" rx="4" fill="#000"/>
<text x="1500.6" y="239.9" font-size="74">G-1</text>
<rect x="1314" y="296.8" width="160" height="15" rx="4" fill="#00f"/>
<text x="1500.6" y="331.4" font-size="74">G-2</text>
<rect x="1314" y="388.4" width="160" height="15" rx="4" fill="#0f0"/>
<text x="1500.6" y="423.0" font-size="74">G-3</text>
</svg></body></html>
